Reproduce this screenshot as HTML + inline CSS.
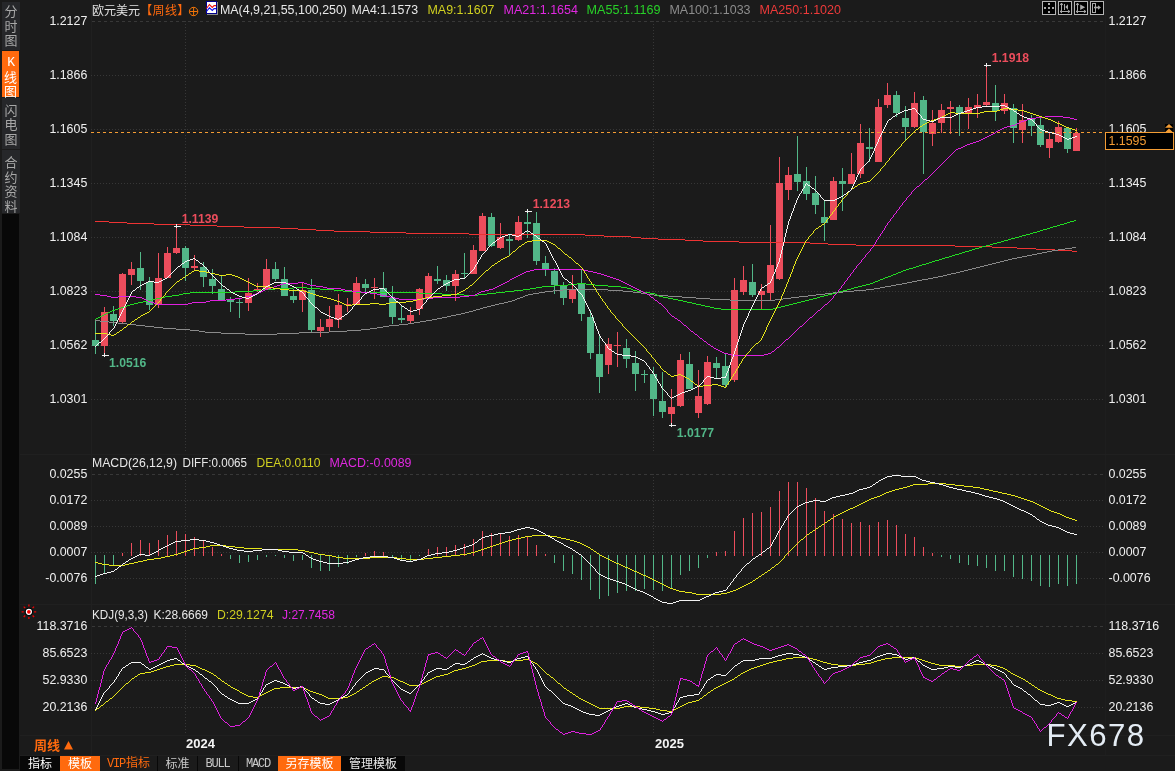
<!DOCTYPE html>
<html lang="zh"><head><meta charset="utf-8"><title>欧元美元 周线</title>
<style>
html,body{margin:0;padding:0;background:#1b1b1b;overflow:hidden;}
body{width:1175px;height:771px;overflow:hidden;position:relative;font-family:"Liberation Sans","Noto Sans CJK SC",sans-serif;color:#e8e8e8;}
#side{position:absolute;left:2px;top:0;width:18px;height:769px;}
#side i{position:absolute;left:0;top:214px;width:17px;height:555px;background:#080808;display:block;}
#side div{position:absolute;left:0;width:18px;box-sizing:content-box;background:#26272a;color:#a8a8a8;font-size:13px;line-height:14.5px;text-align:center;}
#side div.on{background:#ff6a0e;color:#fff;}
#side span{display:block;}
#bar{position:absolute;left:20px;top:756px;height:15px;width:385px;background:#080808;font-size:12px;line-height:16px;}
#bar span{position:absolute;top:0;padding-top:0;height:15px;text-align:center;white-space:nowrap;}
svg{position:absolute;left:0;top:0;}
text{font-family:"Liberation Sans","Noto Sans CJK SC",sans-serif;}
.m{font-family:"Liberation Mono","Noto Sans CJK SC",monospace;letter-spacing:-1.2px;}
#bar .m{letter-spacing:0} #bar .m b{font-weight:normal;letter-spacing:-1.2px;margin-right:1.2px}
</style></head><body>

<div id="side"><i></i>
<div style="top:2px;height:45px;padding-top:3px"><span>分</span><span>时</span><span>图</span></div>
<div class="on" style="top:51px;height:41px;padding-top:5px;width:17px"><span class="m" style="font-size:13px">K</span><span>线</span><span>图</span></div>
<div style="top:98px;height:45.5px;padding-top:5.5px"><span>闪</span><span>电</span><span>图</span></div>
<div style="top:150px;height:57px;padding-top:6px"><span>合</span><span>约</span><span>资</span><span>料</span></div>
</div>

<svg width="1175" height="771" viewBox="0 0 1175 771">
<g stroke="#202020" stroke-width="1" shape-rendering="crispEdges">
<line x1="91.5" y1="0" x2="91.5" y2="755"/><line x1="1105.5" y1="0" x2="1105.5" y2="755" stroke="#1e1e1e"/>
<line x1="20" y1="454.5" x2="1175" y2="454.5"/>
<line x1="20" y1="604.5" x2="1175" y2="604.5"/>
<line x1="20" y1="735.5" x2="1175" y2="735.5"/>
<line x1="20" y1="755.5" x2="1175" y2="755.5"/>
</g>
<g stroke="#373737" stroke-width="1" shape-rendering="crispEdges" fill="none">
<line x1="92" y1="21.5" x2="1103" y2="21.5" stroke="#383838" stroke-dasharray="3 3"/>
<line x1="91" y1="75.5" x2="1103" y2="75.5" stroke-dasharray="1 2"/>
<line x1="91" y1="129.5" x2="1103" y2="129.5" stroke-dasharray="1 2"/>
<line x1="91" y1="183.5" x2="1103" y2="183.5" stroke-dasharray="1 2"/>
<line x1="91" y1="237.5" x2="1103" y2="237.5" stroke-dasharray="1 2"/>
<line x1="91" y1="291.5" x2="1103" y2="291.5" stroke-dasharray="1 2"/>
<line x1="91" y1="345.5" x2="1103" y2="345.5" stroke-dasharray="1 2"/>
<line x1="91" y1="399.5" x2="1103" y2="399.5" stroke-dasharray="1 2"/>
<line x1="92" y1="474.5" x2="1103" y2="474.5" stroke="#383838" stroke-dasharray="3 3"/>
<line x1="91" y1="500.5" x2="1103" y2="500.5" stroke-dasharray="1 2"/>
<line x1="91" y1="526.5" x2="1103" y2="526.5" stroke-dasharray="1 2"/>
<line x1="91" y1="552.5" x2="1103" y2="552.5" stroke-dasharray="1 2"/>
<line x1="91" y1="578.5" x2="1103" y2="578.5" stroke-dasharray="1 2"/>
<line x1="92" y1="626.5" x2="1103" y2="626.5" stroke="#383838" stroke-dasharray="3 3"/>
<line x1="91" y1="653.5" x2="1103" y2="653.5" stroke-dasharray="1 2"/>
<line x1="91" y1="680.5" x2="1103" y2="680.5" stroke-dasharray="1 2"/>
<line x1="91" y1="707.5" x2="1103" y2="707.5" stroke-dasharray="1 2"/>
<line x1="185.5" y1="21" x2="185.5" y2="452" stroke-dasharray="1 2"/>
<line x1="185.5" y1="474" x2="185.5" y2="604" stroke-dasharray="1 2"/>
<line x1="185.5" y1="627" x2="185.5" y2="735" stroke-dasharray="1 2"/>
<line x1="653.5" y1="21" x2="653.5" y2="452" stroke-dasharray="1 2"/>
<line x1="653.5" y1="474" x2="653.5" y2="604" stroke-dasharray="1 2"/>
<line x1="653.5" y1="627" x2="653.5" y2="735" stroke-dasharray="1 2"/>
</g>
<g shape-rendering="crispEdges">
<rect x="95" y="319" width="1" height="35" fill="#52b788"/>
<rect x="92" y="340" width="7" height="6" fill="#52b788"/>
<rect x="104" y="307" width="1" height="48" fill="#ec4d5c"/>
<rect x="101" y="312" width="7" height="34" fill="#ec4d5c"/>
<rect x="113" y="306" width="1" height="20" fill="#52b788"/>
<rect x="110" y="314" width="7" height="7" fill="#52b788"/>
<rect x="122" y="273" width="1" height="50" fill="#ec4d5c"/>
<rect x="119" y="274" width="7" height="48" fill="#ec4d5c"/>
<rect x="131" y="262" width="1" height="23" fill="#ec4d5c"/>
<rect x="128" y="269" width="7" height="6" fill="#ec4d5c"/>
<rect x="140" y="252" width="1" height="38" fill="#52b788"/>
<rect x="137" y="268" width="7" height="13" fill="#52b788"/>
<rect x="149" y="277" width="1" height="33" fill="#52b788"/>
<rect x="146" y="282" width="7" height="23" fill="#52b788"/>
<rect x="158" y="253" width="1" height="55" fill="#ec4d5c"/>
<rect x="155" y="278" width="7" height="27" fill="#ec4d5c"/>
<rect x="167" y="247" width="1" height="31" fill="#ec4d5c"/>
<rect x="164" y="253" width="7" height="25" fill="#ec4d5c"/>
<rect x="176" y="226" width="1" height="28" fill="#ec4d5c"/>
<rect x="173" y="248" width="7" height="5" fill="#ec4d5c"/>
<rect x="185" y="246" width="1" height="35" fill="#52b788"/>
<rect x="182" y="248" width="7" height="20" fill="#52b788"/>
<rect x="194" y="255" width="1" height="16" fill="#ec4d5c"/>
<rect x="191" y="266" width="7" height="2" fill="#ec4d5c"/>
<rect x="203" y="262" width="1" height="25" fill="#52b788"/>
<rect x="200" y="267" width="7" height="10" fill="#52b788"/>
<rect x="212" y="269" width="1" height="25" fill="#52b788"/>
<rect x="209" y="279" width="7" height="7" fill="#52b788"/>
<rect x="221" y="276" width="1" height="25" fill="#52b788"/>
<rect x="218" y="289" width="7" height="11" fill="#52b788"/>
<rect x="230" y="297" width="1" height="15" fill="#52b788"/>
<rect x="227" y="300" width="7" height="2" fill="#52b788"/>
<rect x="239" y="298" width="1" height="20" fill="#52b788"/>
<rect x="236" y="302" width="7" height="1" fill="#52b788"/>
<rect x="248" y="278" width="1" height="33" fill="#ec4d5c"/>
<rect x="245" y="293" width="7" height="10" fill="#ec4d5c"/>
<rect x="257" y="283" width="1" height="9" fill="#ec4d5c"/>
<rect x="254" y="289" width="7" height="2" fill="#ec4d5c"/>
<rect x="266" y="259" width="1" height="31" fill="#ec4d5c"/>
<rect x="263" y="269" width="7" height="21" fill="#ec4d5c"/>
<rect x="275" y="262" width="1" height="19" fill="#52b788"/>
<rect x="272" y="269" width="7" height="10" fill="#52b788"/>
<rect x="284" y="267" width="1" height="29" fill="#52b788"/>
<rect x="281" y="279" width="7" height="17" fill="#52b788"/>
<rect x="293" y="289" width="1" height="14" fill="#52b788"/>
<rect x="290" y="296" width="7" height="4" fill="#52b788"/>
<rect x="302" y="282" width="1" height="30" fill="#ec4d5c"/>
<rect x="299" y="290" width="7" height="10" fill="#ec4d5c"/>
<rect x="311" y="279" width="1" height="53" fill="#52b788"/>
<rect x="308" y="290" width="7" height="40" fill="#52b788"/>
<rect x="320" y="319" width="1" height="18" fill="#ec4d5c"/>
<rect x="317" y="327" width="7" height="4" fill="#ec4d5c"/>
<rect x="329" y="306" width="1" height="26" fill="#ec4d5c"/>
<rect x="326" y="319" width="7" height="8" fill="#ec4d5c"/>
<rect x="338" y="294" width="1" height="34" fill="#ec4d5c"/>
<rect x="335" y="305" width="7" height="15" fill="#ec4d5c"/>
<rect x="347" y="298" width="1" height="14" fill="#ec4d5c"/>
<rect x="344" y="304" width="7" height="1" fill="#ec4d5c"/>
<rect x="356" y="277" width="1" height="27" fill="#ec4d5c"/>
<rect x="353" y="283" width="7" height="21" fill="#ec4d5c"/>
<rect x="365" y="279" width="1" height="13" fill="#52b788"/>
<rect x="362" y="284" width="7" height="4" fill="#52b788"/>
<rect x="374" y="278" width="1" height="21" fill="#ec4d5c"/>
<rect x="371" y="287" width="7" height="1" fill="#ec4d5c"/>
<rect x="383" y="272" width="1" height="25" fill="#52b788"/>
<rect x="380" y="288" width="7" height="9" fill="#52b788"/>
<rect x="392" y="286" width="1" height="38" fill="#52b788"/>
<rect x="389" y="298" width="7" height="19" fill="#52b788"/>
<rect x="401" y="305" width="1" height="18" fill="#52b788"/>
<rect x="398" y="318" width="7" height="2" fill="#52b788"/>
<rect x="410" y="307" width="1" height="17" fill="#ec4d5c"/>
<rect x="407" y="315" width="7" height="6" fill="#ec4d5c"/>
<rect x="419" y="288" width="1" height="27" fill="#ec4d5c"/>
<rect x="416" y="289" width="7" height="20" fill="#ec4d5c"/>
<rect x="428" y="273" width="1" height="25" fill="#ec4d5c"/>
<rect x="425" y="276" width="7" height="22" fill="#ec4d5c"/>
<rect x="437" y="266" width="1" height="18" fill="#52b788"/>
<rect x="434" y="279" width="7" height="2" fill="#52b788"/>
<rect x="446" y="275" width="1" height="16" fill="#52b788"/>
<rect x="443" y="280" width="7" height="6" fill="#52b788"/>
<rect x="455" y="270" width="1" height="31" fill="#ec4d5c"/>
<rect x="452" y="274" width="7" height="12" fill="#ec4d5c"/>
<rect x="464" y="253" width="1" height="25" fill="#52b788"/>
<rect x="461" y="273" width="7" height="1" fill="#52b788"/>
<rect x="473" y="245" width="1" height="29" fill="#ec4d5c"/>
<rect x="470" y="250" width="7" height="24" fill="#ec4d5c"/>
<rect x="482" y="213" width="1" height="38" fill="#ec4d5c"/>
<rect x="479" y="216" width="7" height="35" fill="#ec4d5c"/>
<rect x="491" y="213" width="1" height="34" fill="#52b788"/>
<rect x="488" y="217" width="7" height="29" fill="#52b788"/>
<rect x="500" y="223" width="1" height="26" fill="#ec4d5c"/>
<rect x="497" y="237" width="7" height="11" fill="#ec4d5c"/>
<rect x="509" y="235" width="1" height="20" fill="#52b788"/>
<rect x="506" y="239" width="7" height="2" fill="#52b788"/>
<rect x="518" y="216" width="1" height="25" fill="#ec4d5c"/>
<rect x="515" y="222" width="7" height="18" fill="#ec4d5c"/>
<rect x="527" y="211" width="1" height="27" fill="#52b788"/>
<rect x="524" y="222" width="7" height="2" fill="#52b788"/>
<rect x="536" y="212" width="1" height="53" fill="#52b788"/>
<rect x="533" y="223" width="7" height="38" fill="#52b788"/>
<rect x="545" y="256" width="1" height="20" fill="#52b788"/>
<rect x="542" y="263" width="7" height="7" fill="#52b788"/>
<rect x="554" y="268" width="1" height="26" fill="#52b788"/>
<rect x="551" y="271" width="7" height="14" fill="#52b788"/>
<rect x="563" y="282" width="1" height="23" fill="#52b788"/>
<rect x="560" y="285" width="7" height="13" fill="#52b788"/>
<rect x="572" y="275" width="1" height="28" fill="#ec4d5c"/>
<rect x="569" y="290" width="7" height="9" fill="#ec4d5c"/>
<rect x="581" y="269" width="1" height="52" fill="#52b788"/>
<rect x="578" y="283" width="7" height="31" fill="#52b788"/>
<rect x="590" y="310" width="1" height="49" fill="#52b788"/>
<rect x="587" y="317" width="7" height="36" fill="#52b788"/>
<rect x="599" y="336" width="1" height="57" fill="#52b788"/>
<rect x="596" y="354" width="7" height="23" fill="#52b788"/>
<rect x="608" y="338" width="1" height="36" fill="#ec4d5c"/>
<rect x="605" y="344" width="7" height="21" fill="#ec4d5c"/>
<rect x="617" y="332" width="1" height="35" fill="#ec4d5c"/>
<rect x="614" y="345" width="7" height="1" fill="#ec4d5c"/>
<rect x="626" y="339" width="1" height="29" fill="#52b788"/>
<rect x="623" y="348" width="7" height="11" fill="#52b788"/>
<rect x="635" y="351" width="1" height="40" fill="#52b788"/>
<rect x="632" y="363" width="7" height="11" fill="#52b788"/>
<rect x="644" y="370" width="1" height="13" fill="#52b788"/>
<rect x="641" y="374" width="7" height="1" fill="#52b788"/>
<rect x="653" y="367" width="1" height="49" fill="#52b788"/>
<rect x="650" y="374" width="7" height="25" fill="#52b788"/>
<rect x="662" y="372" width="1" height="46" fill="#52b788"/>
<rect x="659" y="401" width="7" height="11" fill="#52b788"/>
<rect x="671" y="389" width="1" height="36" fill="#ec4d5c"/>
<rect x="668" y="407" width="7" height="7" fill="#ec4d5c"/>
<rect x="680" y="354" width="1" height="53" fill="#ec4d5c"/>
<rect x="677" y="360" width="7" height="46" fill="#ec4d5c"/>
<rect x="689" y="352" width="1" height="37" fill="#52b788"/>
<rect x="686" y="364" width="7" height="25" fill="#52b788"/>
<rect x="698" y="370" width="1" height="48" fill="#ec4d5c"/>
<rect x="695" y="396" width="7" height="17" fill="#ec4d5c"/>
<rect x="707" y="356" width="1" height="49" fill="#ec4d5c"/>
<rect x="704" y="362" width="7" height="42" fill="#ec4d5c"/>
<rect x="716" y="357" width="1" height="21" fill="#52b788"/>
<rect x="713" y="363" width="7" height="5" fill="#52b788"/>
<rect x="725" y="353" width="1" height="35" fill="#52b788"/>
<rect x="722" y="366" width="7" height="19" fill="#52b788"/>
<rect x="734" y="278" width="1" height="104" fill="#ec4d5c"/>
<rect x="731" y="290" width="7" height="90" fill="#ec4d5c"/>
<rect x="743" y="266" width="1" height="29" fill="#ec4d5c"/>
<rect x="740" y="280" width="7" height="12" fill="#ec4d5c"/>
<rect x="752" y="264" width="1" height="33" fill="#52b788"/>
<rect x="749" y="282" width="7" height="13" fill="#52b788"/>
<rect x="761" y="284" width="1" height="25" fill="#ec4d5c"/>
<rect x="758" y="291" width="7" height="4" fill="#ec4d5c"/>
<rect x="770" y="225" width="1" height="75" fill="#ec4d5c"/>
<rect x="767" y="265" width="7" height="28" fill="#ec4d5c"/>
<rect x="779" y="157" width="1" height="123" fill="#ec4d5c"/>
<rect x="776" y="183" width="7" height="96" fill="#ec4d5c"/>
<rect x="788" y="167" width="1" height="33" fill="#ec4d5c"/>
<rect x="785" y="175" width="7" height="15" fill="#ec4d5c"/>
<rect x="797" y="136" width="1" height="55" fill="#52b788"/>
<rect x="794" y="174" width="7" height="8" fill="#52b788"/>
<rect x="806" y="167" width="1" height="33" fill="#52b788"/>
<rect x="803" y="181" width="7" height="13" fill="#52b788"/>
<rect x="815" y="176" width="1" height="38" fill="#52b788"/>
<rect x="812" y="193" width="7" height="12" fill="#52b788"/>
<rect x="824" y="200" width="1" height="41" fill="#52b788"/>
<rect x="821" y="217" width="7" height="6" fill="#52b788"/>
<rect x="833" y="177" width="1" height="43" fill="#ec4d5c"/>
<rect x="830" y="181" width="7" height="39" fill="#ec4d5c"/>
<rect x="842" y="168" width="1" height="43" fill="#52b788"/>
<rect x="839" y="181" width="7" height="3" fill="#52b788"/>
<rect x="851" y="153" width="1" height="31" fill="#ec4d5c"/>
<rect x="848" y="174" width="7" height="10" fill="#ec4d5c"/>
<rect x="860" y="124" width="1" height="54" fill="#ec4d5c"/>
<rect x="857" y="143" width="7" height="31" fill="#ec4d5c"/>
<rect x="869" y="128" width="1" height="34" fill="#52b788"/>
<rect x="866" y="147" width="7" height="2" fill="#52b788"/>
<rect x="878" y="99" width="1" height="63" fill="#ec4d5c"/>
<rect x="875" y="107" width="7" height="55" fill="#ec4d5c"/>
<rect x="887" y="83" width="1" height="25" fill="#ec4d5c"/>
<rect x="884" y="95" width="7" height="10" fill="#ec4d5c"/>
<rect x="896" y="91" width="1" height="26" fill="#52b788"/>
<rect x="893" y="95" width="7" height="18" fill="#52b788"/>
<rect x="905" y="106" width="1" height="34" fill="#52b788"/>
<rect x="902" y="118" width="7" height="9" fill="#52b788"/>
<rect x="914" y="92" width="1" height="36" fill="#ec4d5c"/>
<rect x="911" y="103" width="7" height="24" fill="#ec4d5c"/>
<rect x="923" y="96" width="1" height="78" fill="#52b788"/>
<rect x="920" y="100" width="7" height="32" fill="#52b788"/>
<rect x="932" y="110" width="1" height="36" fill="#ec4d5c"/>
<rect x="929" y="123" width="7" height="11" fill="#ec4d5c"/>
<rect x="941" y="104" width="1" height="29" fill="#ec4d5c"/>
<rect x="938" y="110" width="7" height="13" fill="#ec4d5c"/>
<rect x="950" y="101" width="1" height="33" fill="#ec4d5c"/>
<rect x="947" y="107" width="7" height="2" fill="#ec4d5c"/>
<rect x="959" y="105" width="1" height="31" fill="#52b788"/>
<rect x="956" y="107" width="7" height="6" fill="#52b788"/>
<rect x="968" y="98" width="1" height="31" fill="#ec4d5c"/>
<rect x="965" y="107" width="7" height="6" fill="#ec4d5c"/>
<rect x="977" y="94" width="1" height="24" fill="#ec4d5c"/>
<rect x="974" y="105" width="7" height="3" fill="#ec4d5c"/>
<rect x="986" y="65" width="1" height="41" fill="#ec4d5c"/>
<rect x="983" y="102" width="7" height="3" fill="#ec4d5c"/>
<rect x="995" y="85" width="1" height="36" fill="#52b788"/>
<rect x="992" y="103" width="7" height="8" fill="#52b788"/>
<rect x="1004" y="94" width="1" height="20" fill="#ec4d5c"/>
<rect x="1001" y="103" width="7" height="8" fill="#ec4d5c"/>
<rect x="1013" y="104" width="1" height="39" fill="#52b788"/>
<rect x="1010" y="108" width="7" height="20" fill="#52b788"/>
<rect x="1022" y="104" width="1" height="39" fill="#ec4d5c"/>
<rect x="1019" y="120" width="7" height="10" fill="#ec4d5c"/>
<rect x="1031" y="115" width="1" height="21" fill="#52b788"/>
<rect x="1028" y="118" width="7" height="8" fill="#52b788"/>
<rect x="1040" y="117" width="1" height="30" fill="#52b788"/>
<rect x="1037" y="125" width="7" height="20" fill="#52b788"/>
<rect x="1049" y="132" width="1" height="26" fill="#ec4d5c"/>
<rect x="1046" y="139" width="7" height="9" fill="#ec4d5c"/>
<rect x="1058" y="121" width="1" height="22" fill="#ec4d5c"/>
<rect x="1055" y="127" width="7" height="15" fill="#ec4d5c"/>
<rect x="1067" y="128" width="1" height="25" fill="#52b788"/>
<rect x="1064" y="128" width="7" height="21" fill="#52b788"/>
<rect x="1076" y="128" width="1" height="23" fill="#ec4d5c"/>
<rect x="1073" y="133" width="7" height="18" fill="#ec4d5c"/>
</g>
<line x1="91" y1="132.5" x2="1103" y2="132.5" stroke="#f39c34" stroke-width="1" stroke-dasharray="3 3" shape-rendering="crispEdges"/>
<path d="M95 221.5h14M109 222.5h18M127 223.5h27M154 224.5h36M190 225.5h27M217 226.5h27M244 227.5h36M280 228.5h18M298 229.5h18M316 230.5h18M334 231.5h36M370 232.5h36M406 233.5h63M469 234.5h116M585 235.5h19M604 236.5h27M631 237.5h10M641 238.5h17M658 239.5h27M685 240.5h18M703 241.5h36M739 242.5h71M810 243.5h18M828 244.5h28M856 245.5h99M955 246.5h37M992 247.5h25M1017 248.5h19M1036 249.5h19M1055 250.5h17M1072 251.5h5" fill="none" stroke="#ee3333" stroke-width="1" shape-rendering="crispEdges"/>
<path d="M205 332.5h16M299 332.5h30M136 325.5h9M389 325.5h10M523 296.5h2M668 296.5h14M799 296.5h9M517 298.5h3M696 298.5h14M783 298.5h8M563 289.5h45M866 289.5h8M922 279.5h6M515 299.5h2M710 299.5h20M775 299.5h8M190 330.5h9M347 330.5h14M447 316.5h4M520 297.5h3M682 297.5h14M791 297.5h8M907 282.5h5M245 334.5h32M118 323.5h9M408 323.5h6M512 300.5h3M730 300.5h45M1042 252.5h5M163 328.5h13M370 328.5h7M553 290.5h10M608 290.5h15M854 290.5h12M938 276.5h5M109 322.5h9M414 322.5h6M491 305.5h4M984 265.5h4M533 293.5h6M641 293.5h6M825 293.5h8M528 294.5h5M647 294.5h7M816 294.5h9M933 277.5h5M199 331.5h6M329 331.5h18M1008 259.5h4M100 321.5h9M420 321.5h6M891 285.5h5M221 333.5h24M277 333.5h22M145 326.5h9M383 326.5h6M947 274.5h4M480 308.5h3M539 292.5h6M633 292.5h8M833 292.5h10M154 327.5h9M377 327.5h6M545 291.5h8M623 291.5h10M843 291.5h11M972 268.5h4M176 329.5h14M361 329.5h9M1017 257.5h5M442 317.5h5M461 313.5h4M980 266.5h4M1072 247.5h4M525 295.5h3M654 295.5h14M808 295.5h8M504 302.5h4M885 286.5h6M1004 260.5h4M1065 248.5h7M95 320.5h5M426 320.5h6M1022 256.5h5M469 311.5h4M880 287.5h5M968 269.5h4M127 324.5h9M399 324.5h9M1052 250.5h6M912 281.5h5M1012 258.5h5M992 263.5h4M1032 254.5h5M456 314.5h5M499 303.5h5M902 283.5h5M956 272.5h4M1037 253.5h5M1058 249.5h7M1000 261.5h4M487 306.5h4M943 275.5h4M1027 255.5h5M495 304.5h4M476 309.5h4M917 280.5h5M437 318.5h5M483 307.5h4M976 267.5h4M1047 251.5h5M964 270.5h4M988 264.5h4M432 319.5h5M451 315.5h5M896 284.5h6M951 273.5h5M996 262.5h4M874 288.5h6M465 312.5h4M508 301.5h4M473 310.5h3M928 278.5h5M960 271.5h4" fill="none" stroke="#8a8a8a" stroke-width="1" shape-rendering="crispEdges"/>
<path d="M108 312.5h2M165 296.5h7M659 296.5h4M820 296.5h4M262 289.5h13M320 289.5h14M523 289.5h7M631 289.5h2M847 289.5h4M896 273.5h2M143 301.5h4M683 301.5h4M801 301.5h4M130 304.5h4M696 304.5h5M789 304.5h4M235 291.5h18M343 291.5h13M505 291.5h9M637 291.5h6M839 291.5h4M275 288.5h18M307 288.5h13M530 288.5h6M627 288.5h4M851 288.5h3M179 294.5h4M442 294.5h22M478 294.5h9M655 294.5h2M828 294.5h4M190 292.5h45M356 292.5h63M496 292.5h9M643 292.5h7M836 292.5h3M942 258.5h3M100 316.5h2M568 284.5h9M586 284.5h9M866 284.5h4M253 290.5h9M334 290.5h9M514 290.5h9M633 290.5h4M843 290.5h4M183 293.5h7M419 293.5h23M487 293.5h9M650 293.5h5M832 293.5h4M293 287.5h14M536 287.5h6M621 287.5h6M854 287.5h4M115 309.5h3M721 309.5h52M1060 224.5h4M156 298.5h5M668 298.5h5M813 298.5h4M172 295.5h7M464 295.5h14M657 295.5h2M824 295.5h4M891 275.5h2M1037 231.5h3M1019 236.5h3M993 243.5h4M901 271.5h2M577 283.5h9M870 283.5h3M975 248.5h4M152 299.5h4M673 299.5h5M809 299.5h4M138 302.5h5M687 302.5h5M797 302.5h4M949 256.5h3M1067 222.5h3M1043 229.5h4M929 262.5h3M1026 234.5h4M1001 241.5h3M906 269.5h3M554 285.5h14M595 285.5h13M862 285.5h4M982 246.5h4M965 251.5h4M880 279.5h3M542 286.5h12M608 286.5h13M858 286.5h4M127 305.5h3M701 305.5h4M785 305.5h4M104 314.5h2M121 307.5h3M710 307.5h4M777 307.5h4M1050 227.5h3M959 253.5h3M935 260.5h4M96 318.5h2M919 265.5h3M972 249.5h3M134 303.5h4M692 303.5h4M793 303.5h4M926 263.5h3M903 270.5h3M898 272.5h3M875 281.5h3M955 254.5h4M124 306.5h3M705 306.5h5M781 306.5h4M147 300.5h5M678 300.5h5M805 300.5h4M932 261.5h3M883 278.5h2M997 242.5h4M913 267.5h3M106 313.5h2M979 247.5h3M1057 225.5h3M888 276.5h3M1015 237.5h4M986 245.5h4M945 257.5h4M118 308.5h3M714 308.5h7M773 308.5h4M161 297.5h4M663 297.5h5M817 297.5h3M1064 223.5h3M893 274.5h3M1040 230.5h3M1022 235.5h4M909 268.5h4M878 280.5h2M1070 221.5h4M102 315.5h2M939 259.5h3M98 317.5h2M916 266.5h3M1033 232.5h4M1004 240.5h4M962 252.5h3M922 264.5h4M112 310.5h3M1011 238.5h4M969 250.5h3M1047 228.5h3M1053 226.5h4M885 277.5h3M1008 239.5h3M1030 233.5h3M1074 220.5h2M110 311.5h2M990 244.5h3M873 282.5h2M952 255.5h3M95.5 319v1" fill="none" stroke="#22dd22" stroke-width="1" shape-rendering="crispEdges"/>
<path d="M526 271.5h4M588 271.5h5M144 299.5h2M226 299.5h9M399 299.5h25M100 295.5h7M250 295.5h3M381 295.5h5M469 295.5h6M151 302.5h3M192 302.5h14M265 289.5h3M341 289.5h4M489 289.5h4M637 289.5h2M704 341.5h2M524 272.5h2M593 272.5h4M818 310.5h2M996 131.5h2M142 298.5h2M235 298.5h7M395 298.5h4M424 298.5h9M987 136.5h2M111 297.5h7M136 297.5h6M242 297.5h4M390 297.5h5M433 297.5h27M651 297.5h2M107 296.5h4M118 296.5h18M246 296.5h4M386 296.5h4M460 296.5h9M925 179.5h2M259 292.5h2M361 292.5h9M479 292.5h2M643 292.5h2M1017 123.5h2M268 288.5h3M327 288.5h14M493 288.5h2M635 288.5h2M720 351.5h2M772 351.5h2M154 303.5h3M188 303.5h4M659 303.5h2M261 291.5h2M352 291.5h9M481 291.5h4M641 291.5h2M146 300.5h2M210 300.5h16M655 300.5h2M810 317.5h2M280 284.5h3M307 284.5h3M501 284.5h2M627 284.5h2M534 269.5h50M732 355.5h32M157 304.5h31M825 304.5h2M507 281.5h2M621 281.5h2M675 318.5h2M967 144.5h3M283 283.5h15M304 283.5h3M503 283.5h2M625 283.5h2M256 293.5h3M370 293.5h7M477 293.5h2M645 293.5h2M1036 117.5h9M1063 117.5h7M95 294.5h5M253 294.5h3M377 294.5h4M475 294.5h2M647 294.5h2M512 278.5h2M613 278.5h3M263 290.5h2M345 290.5h7M485 290.5h4M639 290.5h2M1011 125.5h4M522 273.5h2M597 273.5h4M678 320.5h2M973 142.5h3M983 138.5h2M298 282.5h6M505 282.5h2M623 282.5h2M619 280.5h2M1002 128.5h2M993 133.5h2M728 354.5h4M764 354.5h4M1024 120.5h3M1045 116.5h18M700 338.5h2M963 146.5h2M1007 126.5h4M520 274.5h2M601 274.5h3M530 270.5h4M584 270.5h4M277 285.5h3M310 285.5h6M499 285.5h2M629 285.5h2M271 287.5h3M323 287.5h4M495 287.5h2M633 287.5h2M516 276.5h2M607 276.5h3M722 352.5h2M148 301.5h3M206 301.5h4M684 325.5h2M274 286.5h3M316 286.5h7M497 286.5h2M631 286.5h2M998 130.5h2M518 275.5h2M604 275.5h3M989 135.5h2M718 350.5h2M514 277.5h2M610 277.5h3M958 148.5h3M917 186.5h2M711 346.5h2M716 349.5h2M714 348.5h2M1030 118.5h6M1070 118.5h4M695 334.5h2M970 143.5h3M1027 119.5h3M1074 119.5h3M985 137.5h2M724 353.5h4M768 353.5h3M976 141.5h3M981 139.5h2M691 331.5h2M961 147.5h2M786 339.5h2M1004 127.5h3M510 279.5h2M616 279.5h3M1000 129.5h2M1021 121.5h3M800 326.5h2M979 140.5h2M672 316.5h2M777 347.5h2M708 344.5h2M1019 122.5h2M1015 124.5h2M991 134.5h2M956 149.5h2M965 145.5h2M863.5 258v1M864.5 257v1M866.5 254v1M795.5 331v1M901.5 205v1M649.5 295v1M878.5 237v2M902.5 203v2M667.5 310v2M922.5 182v1M710.5 345v1M904.5 201v1M860.5 262v1M887.5 223v2M903.5 202v1M862.5 259v1M861.5 260v2M923.5 181v1M830.5 300v1M831.5 299v1M833.5 296v2M780.5 345v1M663.5 306v1M898.5 209v1M900.5 206v1M920.5 184v1M921.5 183v1M858.5 264v1M995.5 132v1M884.5 228v2M886.5 225v1M829.5 301v1M687.5 327v1M664.5 307v1M894.5 214v1M896.5 211v2M875.5 242v2M899.5 207v2M847.5 278v2M914.5 189v1M828.5 302v1M688.5 328v1M816.5 312v1M872.5 247v1M874.5 244v1M817.5 311v1M699.5 337v1M674.5 317v1M843.5 284v1M845.5 281v1M939.5 166v1M910.5 194v1M702.5 339v1M912.5 191v1M947.5 158v1M911.5 192v2M868.5 252v1M870.5 249v2M815.5 313v1M658.5 302v1M821.5 308v1M839.5 289v1M841.5 286v2M840.5 288v1M880.5 234v2M882.5 231v2M906.5 198v2M908.5 196v1M945.5 160v1M909.5 195v1M689.5 329v1M682.5 323v1M835.5 294v1M838.5 290v2M809.5 318v1M907.5 197v1M834.5 295v1M807.5 320v1M865.5 255v2M794.5 332v1M927.5 178v1M697.5 335v1M935.5 170v1M650.5 296v1M890.5 219v2M792.5 334v1M892.5 217v1M793.5 333v1M849.5 276v1M850.5 274v2M933.5 172v1M915.5 188v1M657.5 301v1M823.5 306v1M790.5 336v1M791.5 335v1M876.5 240v2M888.5 222v1M844.5 282v2M846.5 280v1M680.5 321v1M913.5 190v1M948.5 157v1M698.5 336v1M955.5 150v1M919.5 185v1M856.5 266v2M885.5 226v2M822.5 307v1M827.5 303v1M842.5 285v1M784.5 341v1M946.5 159v1M953.5 152v1M954.5 151v1M820.5 309v1M706.5 342v1M782.5 343v1M783.5 342v1M873.5 245v2M707.5 343v1M669.5 313v1M808.5 319v1M713.5 347v1M813.5 315v1M814.5 314v1M936.5 169v1M881.5 233v1M883.5 230v1M944.5 161v1M683.5 324v1M694.5 333v1M943.5 162v1M812.5 316v1M893.5 215v2M895.5 213v1M853.5 270v2M934.5 171v1M941.5 164v1M942.5 163v1M653.5 298v1M670.5 314v1M889.5 221v1M891.5 218v1M799.5 327v1M932.5 173v1M805.5 322v1M852.5 272v1M803.5 324v1M785.5 340v1M661.5 304v1M848.5 277v1M931.5 174v1M836.5 293v1M681.5 322v1M789.5 337v1M924.5 180v1M703.5 340v1M930.5 175v1M929.5 176v1M832.5 298v1M788.5 338v1M771.5 352v1M668.5 312v1M928.5 177v1M952.5 153v1M693.5 332v1M775.5 349v1M686.5 326v1M776.5 348v1M781.5 344v1M950.5 155v1M916.5 187v1M859.5 263v1M824.5 305v1M806.5 321v1M774.5 350v1M779.5 346v1M897.5 210v1M949.5 156v1M855.5 268v1M857.5 265v1M804.5 323v1M654.5 299v1M851.5 273v1M854.5 269v1M671.5 315v1M665.5 308v1M940.5 165v1M951.5 154v1M837.5 292v1M677.5 319v1M869.5 251v1M797.5 329v1M871.5 248v1M509.5 280v1M798.5 328v1M905.5 200v1M666.5 309v1M938.5 167v1M690.5 330v1M867.5 253v1M796.5 330v1M662.5 305v1M802.5 325v1M877.5 239v1M879.5 236v1M937.5 168v1" fill="none" stroke="#e020e0" stroke-width="1" shape-rendering="crispEdges"/>
<path d="M319 296.5h4M433 296.5h9M194 270.5h5M486 270.5h2M934 119.5h3M1048 119.5h3M256 286.5h13M120 330.5h2M668 374.5h2M678 374.5h3M703 385.5h9M718 385.5h3M327 298.5h4M422 298.5h4M206 272.5h4M923 124.5h2M1060 124.5h2M551 243.5h2M916 129.5h2M1072 129.5h3M183 277.5h2M238 277.5h2M527 241.5h5M547 241.5h2M310 293.5h3M457 293.5h2M565 254.5h2M948 113.5h2M955 113.5h25M1030 113.5h3M495 263.5h2M576 263.5h2M180 279.5h2M242 279.5h2M937 118.5h3M1045 118.5h3M304 291.5h3M461 291.5h2M337 301.5h3M406 301.5h7M532 240.5h15M331 299.5h3M417 299.5h5M240 278.5h2M252 284.5h2M340 302.5h2M390 302.5h16M346 305.5h6M273 288.5h7M466 288.5h2M192 271.5h2M199 271.5h7M997 110.5h3M1018 110.5h6M334 300.5h3M413 300.5h4M671 376.5h3M683 376.5h2M342 303.5h2M370 303.5h9M386 303.5h4M1062 125.5h2M344 304.5h2M352 304.5h18M379 304.5h7M323 297.5h4M426 297.5h7M492 265.5h2M664 371.5h2M186 275.5h2M219 275.5h7M232 275.5h3M920 126.5h2M1064 126.5h2M927 122.5h2M1055 122.5h2M111 335.5h3M280 289.5h9M505 257.5h2M569 257.5h2M316 295.5h3M442 295.5h9M863 182.5h4M687 378.5h2M984 111.5h13M1024 111.5h3M132 321.5h2M1066 127.5h3M215 274.5h4M226 274.5h6M289 290.5h15M463 290.5h2M674 375.5h4M681 375.5h2M513 251.5h2M931 120.5h3M1051 120.5h2M1000 109.5h3M1009 109.5h9M307 292.5h3M459 292.5h2M235 276.5h3M929 121.5h2M1053 121.5h2M143 314.5h2M1075 130.5h2M254 285.5h2M470 285.5h2M855 186.5h2M189 273.5h2M210 273.5h5M248 282.5h2M1003 108.5h6M695 384.5h2M712 384.5h6M860 183.5h3M852 188.5h2M1069 128.5h3M95 333.5h12M269 287.5h4M501 259.5h2M698 386.5h5M721 386.5h3M177 281.5h2M246 281.5h2M950 112.5h5M980 112.5h4M1027 112.5h3M107 334.5h4M114 334.5h2M313 294.5h3M451 294.5h6M867 181.5h3M128 324.5h2M525 242.5h2M549 242.5h2M925 123.5h2M1057 123.5h3M145 313.5h2M946 114.5h2M1033 114.5h3M819 226.5h2M141 315.5h2M942 116.5h2M1039 116.5h3M724 387.5h2M507 256.5h2M522 244.5h2M553 244.5h2M816 228.5h2M685 377.5h2M503 258.5h2M944 115.5h2M1036 115.5h3M244 280.5h2M147 312.5h2M519 246.5h2M138 317.5h2M940 117.5h2M1042 117.5h3M498 261.5h2M250 283.5h2M124 327.5h2M117 332.5h2M135 319.5h2M822 224.5h2M558 248.5h2M691 381.5h2M858 184.5h2M756 343.5h2M781.5 296v3M889.5 158v2M734.5 373v1M479.5 277v1M555.5 245v1M907.5 138v1M639.5 342v1M741.5 361v2M588.5 278v1M658.5 364v1M567.5 255v1M786.5 284v3M730.5 379v2M802.5 247v2M814.5 230v1M584.5 271v2M592.5 284v1M766.5 327v3M904.5 141v1M778.5 303v2M806.5 240v1M646.5 349v2M809.5 236v1M524.5 243v1M158.5 302v1M610.5 310v2M830.5 215v1M899.5 147v1M833.5 211v1M497.5 262v1M769.5 321v2M871.5 179v1M166.5 292v1M587.5 276v2M595.5 288v2M773.5 313v2M818.5 227v1M785.5 287v2M841.5 200v2M761.5 338v2M609.5 309v1M888.5 160v1M599.5 295v1M628.5 331v1M801.5 249v2M474.5 282v1M561.5 250v1M161.5 298v1M836.5 207v1M562.5 251v1M573.5 260v1M880.5 169v2M883.5 166v1M784.5 289v3M737.5 368v1M849.5 191v1M749.5 351v1M788.5 279v3M122.5 329v1M797.5 257v2M777.5 305v2M620.5 322v1M126.5 326v1M598.5 293v2M914.5 131v1M744.5 357v1M768.5 323v2M793.5 266v3M153.5 307v1M173.5 285v1M733.5 374v2M591.5 282v2M661.5 368v1M805.5 241v2M891.5 156v1M594.5 287v1M918.5 128v1M694.5 383v1M627.5 330v1M796.5 259v2M481.5 275v1M649.5 353v1M902.5 143v1M468.5 287v1M824.5 223v1M813.5 231v2M650.5 354v1M634.5 337v1M613.5 314v1M165.5 293v2M772.5 315v2M635.5 338v1M188.5 274v1M808.5 237v2M557.5 247v1M660.5 366v2M484.5 272v1M800.5 251v2M844.5 197v1M515.5 250v1M160.5 299v2M847.5 193v2M875.5 175v1M641.5 344v1M693.5 382v1M832.5 212v2M922.5 125v1M130.5 323v1M488.5 269v1M602.5 299v2M572.5 259v1M642.5 345v1M783.5 292v2M792.5 269v3M612.5 313v1M736.5 369v2M731.5 377v2M909.5 136v1M472.5 284v1M776.5 307v2M168.5 290v1M752.5 347v1M740.5 363v1M767.5 325v2M690.5 380v1M465.5 289v1M727.5 384v1M795.5 261v3M623.5 326v1M894.5 152v2M597.5 292v1M568.5 256v1M601.5 298v1M873.5 177v1M827.5 219v1M870.5 180v1M804.5 243v2M615.5 316v2M762.5 336v2M667.5 373v1M906.5 139v1M689.5 379v1M578.5 264v1M659.5 365v1M622.5 324v2M476.5 280v1M579.5 265v1M163.5 296v1M600.5 296v2M901.5 144v2M835.5 208v2M791.5 272v2M838.5 204v2M593.5 285v2M596.5 290v2M885.5 163v2M851.5 189v1M771.5 317v2M882.5 167v1M666.5 372v1M629.5 332v1M651.5 355v2M799.5 253v2M630.5 333v1M563.5 252v1M846.5 195v1M140.5 316v1M652.5 357v1M175.5 283v1M893.5 154v1M913.5 132v1M490.5 267v1M564.5 253v1M152.5 308v1M782.5 294v2M807.5 239v1M179.5 280v1M494.5 264v1M483.5 273v1M637.5 340v1M743.5 358v1M775.5 309v2M754.5 345v1M826.5 220v2M582.5 268v2M603.5 301v1M803.5 245v2M794.5 264v2M790.5 274v3M758.5 342v1M815.5 229v1M604.5 302v1M574.5 261v1M644.5 347v1M726.5 385v2M739.5 364v2M155.5 305v1M896.5 150v1M636.5 339v1M517.5 248v1M877.5 173v1M765.5 330v2M857.5 185v1M621.5 323v1M521.5 245v1M746.5 354v1M510.5 254v1M735.5 371v2M662.5 369v1M770.5 319v2M829.5 216v2M911.5 134v1M170.5 288v1M908.5 137v1M607.5 306v2M478.5 278v1M614.5 315v1M729.5 381v1M810.5 235v1M655.5 360v2M900.5 146v1M150.5 310v1M134.5 320v1M119.5 331v1M185.5 276v1M643.5 346v1M872.5 178v1M625.5 328v1M798.5 255v2M123.5 328v1M127.5 325v1M845.5 196v1M742.5 359v2M653.5 358v1M632.5 335v1M162.5 297v1M903.5 142v1M837.5 206v1M469.5 286v1M654.5 359v1M624.5 327v1M884.5 165v1M821.5 225v1M473.5 283v1M157.5 303v1M580.5 266v1M753.5 346v1M789.5 277v2M581.5 267v1M879.5 171v1M500.5 260v1M915.5 130v1M745.5 355v2M154.5 306v1M512.5 252v1M174.5 284v1M606.5 305v1M895.5 151v1M764.5 332v2M919.5 127v1M616.5 318v1M485.5 271v1M516.5 249v1M617.5 319v1M172.5 286v1M887.5 161v1M732.5 376v1M840.5 202v1M780.5 299v2M825.5 222v1M760.5 340v1M828.5 218v1M605.5 303v2M898.5 148v1M728.5 382v2M812.5 233v1M848.5 192v1M631.5 334v1M748.5 352v1M575.5 262v1M489.5 268v1M191.5 272v1M843.5 198v1M874.5 176v1M890.5 157v1M910.5 135v1M638.5 341v1M149.5 311v1M657.5 363v1M169.5 289v1M480.5 276v1M663.5 370v1M583.5 270v1M477.5 279v1M164.5 295v1M751.5 348v1M645.5 348v1M608.5 308v1M779.5 301v2M656.5 362v1M831.5 214v1M156.5 304v1M586.5 274v2M763.5 334v2M137.5 318v1M787.5 282v2M878.5 172v1M590.5 281v1M511.5 253v1M905.5 140v1M774.5 311v2M697.5 385v1M475.5 281v1M159.5 301v1M648.5 352v1M886.5 162v1M755.5 344v1M834.5 210v1M619.5 321v1M738.5 366v2M850.5 190v1M750.5 349v2M176.5 282v1M897.5 149v1M491.5 266v1M589.5 279v2M854.5 187v1M626.5 329v1M167.5 291v1M518.5 247v1M560.5 249v1M892.5 155v1M571.5 258v1M912.5 133v1M151.5 309v1M611.5 312v1M633.5 336v1M839.5 203v1M759.5 341v1M618.5 320v1M670.5 375v1M811.5 234v1M881.5 168v1M640.5 343v1M585.5 273v1M556.5 246v1M747.5 353v1M131.5 322v1M876.5 174v1M647.5 351v1M482.5 274v1M842.5 199v1M116.5 333v1M182.5 278v1M509.5 255v1M171.5 287v1" fill="none" stroke="#e6e61a" stroke-width="1" shape-rendering="crispEdges"/>
<path d="M622 355.5h9M148 281.5h6M159 281.5h2M450 281.5h2M680 393.5h2M337 319.5h2M904 110.5h4M967 110.5h3M223 286.5h2M266 286.5h2M292 286.5h2M441 286.5h2M940 117.5h12M1024 117.5h3M410 311.5h3M315 307.5h2M408 310.5h2M413 310.5h4M190 259.5h3M497 239.5h2M902 111.5h2M964 111.5h3M1014 111.5h2M321 312.5h2M505 235.5h3M512 235.5h4M519 235.5h2M534 235.5h2M848 191.5h2M908 109.5h4M970 109.5h3M1011 109.5h2M982 106.5h18M1005 106.5h2M898 113.5h2M958 113.5h3M1017 113.5h2M231 292.5h2M367 292.5h2M1040 129.5h2M227 289.5h2M297 289.5h2M373 289.5h6M938 118.5h2M1027 118.5h3M837 198.5h2M396 301.5h2M685 391.5h3M242 297.5h4M249 297.5h2M263 288.5h2M379 288.5h5M438 288.5h2M233 293.5h2M365 293.5h2M502 236.5h3M516 236.5h3M808 185.5h2M889 119.5h2M923 119.5h3M936 119.5h2M1030 119.5h2M835 199.5h2M954 115.5h2M1020 115.5h2M163 279.5h2M454 279.5h6M565 279.5h2M926 120.5h4M934 120.5h2M140 285.5h2M268 285.5h2M290 285.5h2M765 285.5h2M522 233.5h2M531 233.5h2M710 377.5h4M721 377.5h5M146 282.5h2M154 282.5h5M274 282.5h12M448 282.5h2M569 282.5h2M133 290.5h2M371 290.5h2M259 291.5h2M300 291.5h2M369 291.5h2M493 242.5h2M329 316.5h2M342 316.5h2M691 389.5h2M674 396.5h2M508 234.5h4M1065 138.5h2M1069 138.5h3M1042 130.5h3M405 308.5h2M237 295.5h2M253 295.5h2M1000 105.5h5M137 287.5h2M294 287.5h2M762 287.5h2M676 395.5h2M900 112.5h2M961 112.5h3M525 231.5h2M528 231.5h2M615 353.5h2M844 194.5h2M193 258.5h2M165 278.5h2M460 278.5h5M812 188.5h2M976 107.5h6M1007 107.5h2M617 354.5h5M1048 132.5h4M672 397.5h2M631 356.5h5M334 318.5h3M339 318.5h2M896 114.5h2M956 114.5h2M695 387.5h2M144 283.5h2M272 283.5h2M286 283.5h2M446 283.5h2M768 283.5h2M824 200.5h11M185 261.5h2M612 351.5h2M930 121.5h4M678 394.5h2M178 266.5h2M714 378.5h7M182 263.5h2M200 263.5h2M912 108.5h3M973 108.5h3M1009 108.5h2M235 294.5h2M255 294.5h2M642 360.5h2M707 376.5h3M1052 133.5h4M325 314.5h2M345 314.5h2M99 342.5h2M693 388.5h2M697 386.5h2M841 196.5h2M323 313.5h2M638 358.5h2M187 260.5h3M196 260.5h2M542 241.5h2M246 298.5h3M682 392.5h3M417 309.5h3M1056 134.5h3M142 284.5h2M270 284.5h2M288 284.5h2M444 284.5h2M239 296.5h3M251 296.5h2M688 390.5h3M161 280.5h2M452 280.5h2M1059 135.5h2M1063 137.5h2M1072 137.5h3M331 317.5h3M1061 136.5h2M1075 136.5h2M327 315.5h2M893 116.5h2M952 116.5h2M1022 116.5h2M538 238.5h2M1045 131.5h3M839 197.5h2M500 237.5h2M402 306.5h2M640 359.5h2M636 357.5h2M609 349.5h2M1067 139.5h2M795.5 203v2M815.5 190v1M598.5 331v3M349.5 311v1M602.5 339v2M352.5 307v2M784.5 237v5M479.5 259v1M916.5 110v2M562.5 275v2M816.5 191v1M726.5 373v3M646.5 363v2M437.5 289v1M606.5 345v1M822.5 198v1M127.5 300v2M558.5 267v2M730.5 362v3M877.5 142v2M853.5 184v2M136.5 288v1M171.5 273v1M823.5 199v1M792.5 211v2M783.5 242v4M435.5 291v1M700.5 384v1M747.5 316v2M770.5 281v2M703.5 380v2M490.5 245v1M669.5 396v1M533.5 234v1M355.5 304v1M123.5 308v2M230.5 291v1M386.5 291v1M303.5 293v1M865.5 164v1M787.5 225v4M775.5 269v3M814.5 189v1M605.5 343v2M387.5 292v1M116.5 322v2M892.5 117v1M791.5 213v3M779.5 258v4M803.5 188v1M1037.5 126v1M746.5 318v2M778.5 262v2M758.5 293v2M561.5 273v2M1019.5 114v1M467.5 275v1M650.5 369v1M208.5 270v2M706.5 377v1M661.5 386v2M583.5 297v2M786.5 229v4M751.5 307v2M774.5 272v2M394.5 299v1M654.5 374v2M667.5 393v2M568.5 281v1M799.5 194v2M302.5 292v1M103.5 339v1M668.5 395v1M317.5 308v1M811.5 187v1M215.5 278v1M432.5 294v1M478.5 260v2M96.5 345v1M725.5 376v1M131.5 292v2M591.5 313v2M604.5 342v1M485.5 251v1M876.5 144v2M482.5 254v1M359.5 300v1M597.5 329v2M222.5 285v1M557.5 265v2M608.5 348v1M474.5 267v2M347.5 313v1M649.5 367v2M657.5 379v2M393.5 298v1M404.5 307v1M582.5 295v2M860.5 169v2M226.5 288v1M782.5 246v4M653.5 373v1M554.5 260v1M810.5 186v1M257.5 293v1M777.5 264v3M781.5 250v4M1036.5 124v2M443.5 285v1M126.5 302v2M757.5 295v2M859.5 171v2M871.5 155v2M173.5 271v1M107.5 335v1M883.5 129v2M362.5 296v1M915.5 109v1M590.5 311v2M312.5 304v1M564.5 278v1M852.5 186v2M575.5 287v1M207.5 269v1M430.5 296v1M761.5 288v1M553.5 258v2M596.5 326v3M524.5 232v1M313.5 305v1M122.5 310v2M427.5 299v1M867.5 162v1M660.5 384v2M794.5 205v3M790.5 216v3M550.5 252v2M733.5 354v3M745.5 320v2M351.5 309v1M737.5 342v3M593.5 318v3M469.5 273v1M110.5 331v1M802.5 189v2M180.5 265v1M481.5 255v2M789.5 219v2M741.5 330v3M305.5 296v1M1035.5 123v1M793.5 208v3M400.5 304v1M184.5 262v1M748.5 313v3M607.5 346v2M560.5 271v2M806.5 183v1M702.5 382v1M736.5 345v3M705.5 378v1M817.5 192v1M652.5 371v2M492.5 243v1M552.5 256v2M798.5 196v2M918.5 113v1M477.5 262v2M556.5 263v2M98.5 343v1M785.5 233v4M776.5 267v2M210.5 273v1M656.5 378v1M843.5 195v1M354.5 305v1M168.5 276v1M102.5 340v1M875.5 146v2M887.5 121v2M549.5 250v2M847.5 192v1M130.5 294v2M399.5 303v1M422.5 305v1M891.5 118v1M670.5 397v1M319.5 310v1M592.5 315v3M121.5 312v2M880.5 135v2M895.5 115v1M862.5 167v1M917.5 112v1M773.5 274v2M874.5 148v3M388.5 293v1M886.5 123v2M577.5 289v2M655.5 376v2M728.5 368v3M740.5 333v3M589.5 309v2M658.5 381v2M756.5 297v2M105.5 337v1M559.5 269v2M496.5 240v1M578.5 291v1M117.5 320v2M732.5 357v2M744.5 322v2M651.5 370v1M780.5 254v4M659.5 383v1M434.5 292v1M858.5 173v2M772.5 276v3M870.5 157v2M395.5 300v1M361.5 297v2M882.5 131v2M364.5 294v1M788.5 221v4M125.5 304v2M851.5 188v2M752.5 305v2M475.5 265v2M767.5 284v1M484.5 252v1M304.5 294v2M487.5 248v2M1016.5 112v1M202.5 264v1M805.5 184v2M760.5 289v2M217.5 280v1M1038.5 127v1M209.5 272v1M662.5 388v1M555.5 261v2M644.5 361v1M314.5 306v1M866.5 163v1M820.5 195v2M801.5 191v2M595.5 323v3M421.5 306v2M921.5 116v2M551.5 254v2M530.5 232v1M548.5 248v2M318.5 309v1M120.5 314v2M735.5 348v3M175.5 269v1M109.5 332v2M216.5 279v1M544.5 242v1M198.5 261v1M739.5 336v3M797.5 198v2M731.5 359v3M743.5 324v3M614.5 352v1M755.5 299v2M429.5 297v1M878.5 139v3M869.5 159v2M356.5 303v1M734.5 351v3M307.5 298v1M588.5 307v2M881.5 133v2M857.5 175v2M129.5 296v2M738.5 339v3M807.5 184v1M424.5 303v1M299.5 290v1M97.5 344v1M796.5 200v3M471.5 271v1M112.5 329v1M115.5 324v2M261.5 290v1M344.5 315v1M265.5 287v1M306.5 297v1M348.5 312v1M873.5 151v2M750.5 309v2M885.5 125v2M436.5 290v1M771.5 279v2M491.5 244v1M135.5 289v1M576.5 288v1M440.5 287v1M124.5 306v2M104.5 338v1M587.5 305v2M742.5 327v3M170.5 274v1M139.5 286v1M390.5 295v1M699.5 385v1M920.5 115v1M486.5 250v1M540.5 239v1M804.5 186v2M759.5 291v2M864.5 165v1M729.5 365v3M594.5 321v2M547.5 246v2M861.5 168v1M128.5 298v2M466.5 276v1M401.5 305v1M119.5 316v2M177.5 267v1M818.5 193v1M310.5 302v1M919.5 114v1M211.5 274v1M754.5 301v2M431.5 295v1M856.5 177v3M95.5 346v1M580.5 293v1M212.5 275v1M671.5 398v1M320.5 311v1M218.5 281v1M1033.5 121v1M473.5 269v1M389.5 294v1M219.5 282v1M203.5 265v1M114.5 326v2M536.5 236v1M586.5 303v2M1039.5 128v1M204.5 266v1M181.5 264v1M423.5 304v1M579.5 292v1M601.5 338v1M489.5 246v1M663.5 389v1M872.5 153v2M174.5 270v1M749.5 311v2M363.5 295v1M884.5 127v2M111.5 330v1M821.5 197v1M664.5 390v1M546.5 244v2M358.5 301v1M172.5 272v1M106.5 336v1M118.5 318v2M868.5 161v1M571.5 283v1M426.5 300v2M1032.5 120v1M600.5 336v2M309.5 300v2M229.5 290v1M385.5 290v1M572.5 284v1M753.5 303v2M888.5 120v1M470.5 272v1M645.5 362v1M855.5 180v2M879.5 137v2M922.5 118v1M350.5 310v1M480.5 257v2M611.5 350v1M1013.5 110v1M199.5 262v1M545.5 243v1M407.5 309v1M169.5 275v1M701.5 383v1M527.5 230v1M599.5 334v2M308.5 299v1M764.5 286v1M603.5 341v1M585.5 301v2M353.5 306v1M101.5 341v1M863.5 166v1M567.5 280v1M648.5 366v1M468.5 274v1M225.5 287v1M465.5 277v1M384.5 289v1M727.5 371v2M214.5 277v1M704.5 379v1M854.5 182v2M495.5 241v1M296.5 288v1M476.5 264v1M433.5 293v1M499.5 238v1M391.5 296v1M488.5 247v1M846.5 193v1M360.5 299v1M819.5 194v1M584.5 299v2M563.5 277v1M195.5 259v1M541.5 240v1M392.5 297v1M206.5 268v1M850.5 190v1M483.5 253v1M665.5 391v1M357.5 302v1M213.5 276v1M666.5 392v1M258.5 292v1M341.5 317v1M176.5 268v1M573.5 285v1M113.5 328v1M1034.5 122v1M262.5 289v1M800.5 193v1M220.5 283v1M311.5 303v1M167.5 277v1M537.5 237v1M574.5 286v1M647.5 365v1M221.5 284v1M205.5 267v1M108.5 334v1M521.5 234v1M132.5 291v1M581.5 294v1M425.5 302v1M428.5 298v1M472.5 270v1M398.5 302v1M420.5 308v1" fill="none" stroke="#f2f2f2" stroke-width="1" shape-rendering="crispEdges"/>
<g shape-rendering="crispEdges">
<rect x="95" y="555" width="1" height="29" fill="#52b788"/>
<rect x="104" y="555" width="1" height="18" fill="#52b788"/>
<rect x="113" y="555" width="1" height="11" fill="#52b788"/>
<rect x="122" y="553" width="1" height="3" fill="#ec4d5c"/>
<rect x="131" y="543" width="1" height="13" fill="#ec4d5c"/>
<rect x="140" y="540" width="1" height="16" fill="#ec4d5c"/>
<rect x="149" y="543" width="1" height="13" fill="#ec4d5c"/>
<rect x="158" y="540" width="1" height="16" fill="#ec4d5c"/>
<rect x="167" y="535" width="1" height="21" fill="#ec4d5c"/>
<rect x="176" y="531" width="1" height="25" fill="#ec4d5c"/>
<rect x="185" y="534" width="1" height="22" fill="#ec4d5c"/>
<rect x="194" y="537" width="1" height="19" fill="#ec4d5c"/>
<rect x="203" y="541" width="1" height="15" fill="#ec4d5c"/>
<rect x="212" y="547" width="1" height="9" fill="#ec4d5c"/>
<rect x="221" y="554" width="1" height="2" fill="#ec4d5c"/>
<rect x="230" y="555" width="1" height="4" fill="#52b788"/>
<rect x="239" y="555" width="1" height="8" fill="#52b788"/>
<rect x="248" y="555" width="1" height="7" fill="#52b788"/>
<rect x="257" y="555" width="1" height="5" fill="#52b788"/>
<rect x="266" y="555" width="1" height="2" fill="#52b788"/>
<rect x="275" y="555" width="1" height="1" fill="#52b788"/>
<rect x="284" y="555" width="1" height="3" fill="#52b788"/>
<rect x="293" y="555" width="1" height="6" fill="#52b788"/>
<rect x="302" y="555" width="1" height="5" fill="#52b788"/>
<rect x="311" y="555" width="1" height="13" fill="#52b788"/>
<rect x="320" y="555" width="1" height="16" fill="#52b788"/>
<rect x="329" y="555" width="1" height="16" fill="#52b788"/>
<rect x="338" y="555" width="1" height="12" fill="#52b788"/>
<rect x="347" y="555" width="1" height="9" fill="#52b788"/>
<rect x="356" y="555" width="1" height="2" fill="#52b788"/>
<rect x="365" y="553" width="1" height="3" fill="#ec4d5c"/>
<rect x="374" y="551" width="1" height="5" fill="#ec4d5c"/>
<rect x="383" y="552" width="1" height="4" fill="#ec4d5c"/>
<rect x="392" y="555" width="1" height="2" fill="#52b788"/>
<rect x="401" y="555" width="1" height="5" fill="#52b788"/>
<rect x="410" y="555" width="1" height="6" fill="#52b788"/>
<rect x="419" y="555" width="1" height="1" fill="#52b788"/>
<rect x="428" y="549" width="1" height="7" fill="#ec4d5c"/>
<rect x="437" y="547" width="1" height="9" fill="#ec4d5c"/>
<rect x="446" y="547" width="1" height="9" fill="#ec4d5c"/>
<rect x="455" y="545" width="1" height="11" fill="#ec4d5c"/>
<rect x="464" y="544" width="1" height="12" fill="#ec4d5c"/>
<rect x="473" y="539" width="1" height="17" fill="#ec4d5c"/>
<rect x="482" y="531" width="1" height="25" fill="#ec4d5c"/>
<rect x="491" y="533" width="1" height="23" fill="#ec4d5c"/>
<rect x="500" y="534" width="1" height="22" fill="#ec4d5c"/>
<rect x="509" y="536" width="1" height="20" fill="#ec4d5c"/>
<rect x="518" y="535" width="1" height="21" fill="#ec4d5c"/>
<rect x="527" y="536" width="1" height="20" fill="#ec4d5c"/>
<rect x="536" y="545" width="1" height="11" fill="#ec4d5c"/>
<rect x="545" y="554" width="1" height="2" fill="#ec4d5c"/>
<rect x="554" y="555" width="1" height="8" fill="#52b788"/>
<rect x="563" y="555" width="1" height="16" fill="#52b788"/>
<rect x="572" y="555" width="1" height="19" fill="#52b788"/>
<rect x="581" y="555" width="1" height="25" fill="#52b788"/>
<rect x="590" y="555" width="1" height="35" fill="#52b788"/>
<rect x="599" y="555" width="1" height="44" fill="#52b788"/>
<rect x="608" y="555" width="1" height="41" fill="#52b788"/>
<rect x="617" y="555" width="1" height="38" fill="#52b788"/>
<rect x="626" y="555" width="1" height="36" fill="#52b788"/>
<rect x="635" y="555" width="1" height="36" fill="#52b788"/>
<rect x="644" y="555" width="1" height="34" fill="#52b788"/>
<rect x="653" y="555" width="1" height="35" fill="#52b788"/>
<rect x="662" y="555" width="1" height="36" fill="#52b788"/>
<rect x="671" y="555" width="1" height="33" fill="#52b788"/>
<rect x="680" y="555" width="1" height="20" fill="#52b788"/>
<rect x="689" y="555" width="1" height="16" fill="#52b788"/>
<rect x="698" y="555" width="1" height="13" fill="#52b788"/>
<rect x="707" y="555" width="1" height="3" fill="#52b788"/>
<rect x="716" y="552" width="1" height="4" fill="#ec4d5c"/>
<rect x="725" y="551" width="1" height="5" fill="#ec4d5c"/>
<rect x="734" y="531" width="1" height="25" fill="#ec4d5c"/>
<rect x="743" y="518" width="1" height="38" fill="#ec4d5c"/>
<rect x="752" y="513" width="1" height="43" fill="#ec4d5c"/>
<rect x="761" y="512" width="1" height="44" fill="#ec4d5c"/>
<rect x="770" y="507" width="1" height="49" fill="#ec4d5c"/>
<rect x="779" y="491" width="1" height="65" fill="#ec4d5c"/>
<rect x="788" y="482" width="1" height="74" fill="#ec4d5c"/>
<rect x="797" y="482" width="1" height="74" fill="#ec4d5c"/>
<rect x="806" y="488" width="1" height="68" fill="#ec4d5c"/>
<rect x="815" y="498" width="1" height="58" fill="#ec4d5c"/>
<rect x="824" y="511" width="1" height="45" fill="#ec4d5c"/>
<rect x="833" y="514" width="1" height="42" fill="#ec4d5c"/>
<rect x="842" y="519" width="1" height="37" fill="#ec4d5c"/>
<rect x="851" y="523" width="1" height="33" fill="#ec4d5c"/>
<rect x="860" y="522" width="1" height="34" fill="#ec4d5c"/>
<rect x="869" y="525" width="1" height="31" fill="#ec4d5c"/>
<rect x="878" y="522" width="1" height="34" fill="#ec4d5c"/>
<rect x="887" y="520" width="1" height="36" fill="#ec4d5c"/>
<rect x="896" y="525" width="1" height="31" fill="#ec4d5c"/>
<rect x="905" y="534" width="1" height="22" fill="#ec4d5c"/>
<rect x="914" y="537" width="1" height="19" fill="#ec4d5c"/>
<rect x="923" y="547" width="1" height="9" fill="#ec4d5c"/>
<rect x="932" y="553" width="1" height="3" fill="#ec4d5c"/>
<rect x="941" y="555" width="1" height="2" fill="#52b788"/>
<rect x="950" y="555" width="1" height="4" fill="#52b788"/>
<rect x="959" y="555" width="1" height="8" fill="#52b788"/>
<rect x="968" y="555" width="1" height="10" fill="#52b788"/>
<rect x="977" y="555" width="1" height="11" fill="#52b788"/>
<rect x="986" y="555" width="1" height="13" fill="#52b788"/>
<rect x="995" y="555" width="1" height="16" fill="#52b788"/>
<rect x="1004" y="555" width="1" height="16" fill="#52b788"/>
<rect x="1013" y="555" width="1" height="22" fill="#52b788"/>
<rect x="1022" y="555" width="1" height="24" fill="#52b788"/>
<rect x="1031" y="555" width="1" height="26" fill="#52b788"/>
<rect x="1040" y="555" width="1" height="31" fill="#52b788"/>
<rect x="1049" y="555" width="1" height="32" fill="#52b788"/>
<rect x="1058" y="555" width="1" height="29" fill="#52b788"/>
<rect x="1067" y="555" width="1" height="31" fill="#52b788"/>
<rect x="1076" y="555" width="1" height="29" fill="#52b788"/>
</g>
<path d="M505 541.5h3M574 541.5h3M895 489.5h4M984 489.5h5M907 486.5h3M964 486.5h9M161 557.5h4M336 557.5h7M370 557.5h27M433 557.5h9M604 557.5h2M886 492.5h3M998 492.5h4M865 501.5h2M1030 501.5h3M899 488.5h4M980 488.5h4M181 552.5h3M309 552.5h5M471 552.5h4M679 591.5h6M730 591.5h3M637 572.5h2M765 572.5h2M147 559.5h7M406 559.5h18M608 559.5h2M512 539.5h4M566 539.5h4M801 539.5h2M516 538.5h5M561 538.5h5M874 497.5h3M1018 497.5h3M154 558.5h7M343 558.5h27M397 558.5h9M424 558.5h9M606 558.5h2M648 577.5h2M658 582.5h2M750 582.5h2M187 550.5h3M298 550.5h7M478 550.5h3M98 563.5h4M129 563.5h5M616 563.5h3M109 565.5h16M621 565.5h2M193 548.5h6M244 548.5h18M484 548.5h3M206 546.5h4M226 546.5h9M490 546.5h3M586 546.5h2M190 549.5h3M262 549.5h36M481 549.5h3M591 549.5h2M170 555.5h4M325 555.5h7M451 555.5h9M600 555.5h2M508 540.5h4M570 540.5h4M630 569.5h2M525 536.5h7M550 536.5h7M696 594.5h25M641 574.5h2M762 574.5h2M859 504.5h2M1037 504.5h2M850 508.5h3M1045 508.5h2M816 528.5h2M623 566.5h2M95 562.5h3M134 562.5h4M614 562.5h2M184 551.5h3M305 551.5h4M475 551.5h3M594 551.5h2M913 484.5h15M946 484.5h9M871 498.5h3M1021 498.5h3M855 506.5h2M1041 506.5h2M846 510.5h2M1049 510.5h2M210 545.5h16M493 545.5h3M584 545.5h2M174 554.5h4M318 554.5h7M460 554.5h7M884 493.5h2M1002 493.5h5M928 483.5h18M869 499.5h2M1024 499.5h3M143 560.5h4M610 560.5h2M499 543.5h3M580 543.5h2M861 503.5h2M1035 503.5h2M199 547.5h7M235 547.5h9M487 547.5h3M588 547.5h2M165 556.5h5M332 556.5h4M442 556.5h9M602 556.5h2M844 511.5h2M1051 511.5h3M853 507.5h2M1043 507.5h2M662 584.5h2M746 584.5h2M910 485.5h3M955 485.5h9M685 592.5h7M727 592.5h3M813 530.5h2M532 535.5h18M102 564.5h7M125 564.5h4M619 564.5h2M776 564.5h2M848 509.5h2M1047 509.5h2M496 544.5h3M582 544.5h2M831 518.5h2M1069 518.5h3M903 487.5h4M973 487.5h7M842 512.5h2M1054 512.5h3M882 494.5h2M1007 494.5h4M836 515.5h2M1062 515.5h2M857 505.5h2M1039 505.5h2M178 553.5h3M314 553.5h4M467 553.5h4M597 553.5h2M1066 517.5h3M892 490.5h3M989 490.5h4M840 513.5h2M1057 513.5h3M666 586.5h2M742 586.5h2M670 588.5h3M738 588.5h2M838 514.5h2M1060 514.5h2M632 570.5h2M768 570.5h2M877 496.5h3M1015 496.5h3M673 589.5h3M736 589.5h2M664 585.5h2M744 585.5h2M639 573.5h2M521 537.5h4M557 537.5h4M807 534.5h2M628 568.5h2M138 561.5h5M612 561.5h2M668 587.5h2M740 587.5h2M660 583.5h2M748 583.5h2M880 495.5h2M1011 495.5h4M650 578.5h2M756 578.5h2M654 580.5h2M753 580.5h2M646 576.5h2M759 576.5h2M1072 519.5h3M889 491.5h3M993 491.5h5M676 590.5h3M733 590.5h3M692 593.5h4M721 593.5h6M822 524.5h2M643 575.5h3M634 571.5h3M625 567.5h3M772 567.5h2M834 516.5h2M1064 516.5h2M819 526.5h2M867 500.5h2M1027 500.5h3M502 542.5h3M577 542.5h3M828 520.5h2M1075 520.5h2M863 502.5h2M1033 502.5h2M825 522.5h2M652 579.5h2M810 532.5h2M656 581.5h2M590.5 548v1M815.5 529v1M593.5 550v1M794.5 546v1M596.5 552v1M767.5 571v1M782.5 559v1M783.5 558v1M785.5 555v1M771.5 568v1M806.5 535v1M793.5 547v1M758.5 577v1M792.5 548v1M827.5 521v1M800.5 540v1M799.5 541v1M784.5 556v2M770.5 569v1M805.5 536v1M791.5 549v1M804.5 537v1M818.5 527v1M790.5 550v1M775.5 565v1M780.5 561v1M781.5 560v1M761.5 575v1M830.5 519v1M803.5 538v1M774.5 566v1M809.5 533v1M778.5 563v1M779.5 562v1M797.5 543v1M798.5 542v1M752.5 581v1M755.5 579v1M789.5 551v1M821.5 525v1M812.5 531v1M796.5 544v1M788.5 552v1M833.5 517v1M787.5 553v1M824.5 523v1M795.5 545v1M764.5 573v1M786.5 554v1M599.5 554v1" fill="none" stroke="#e6e61a" stroke-width="1" shape-rendering="crispEdges"/>
<path d="M139 554.5h6M150 554.5h2M431 554.5h4M579 554.5h2M759 554.5h2M879 480.5h2M922 480.5h4M161 548.5h2M229 548.5h4M460 548.5h3M570 548.5h2M767 548.5h2M237 550.5h7M253 550.5h9M278 550.5h4M453 550.5h4M573 550.5h2M171 543.5h2M214 543.5h3M561 543.5h2M119 566.5h2M813 500.5h7M826 500.5h2M1000 500.5h3M887 476.5h5M901 476.5h15M514 530.5h3M537 530.5h2M1063 530.5h2M517 529.5h4M534 529.5h3M1061 529.5h2M832 497.5h4M989 497.5h4M97 575.5h3M601 575.5h2M658 600.5h2M679 600.5h21M485 536.5h4M548 536.5h2M651 596.5h2M706 596.5h3M704 597.5h2M131 558.5h2M311 558.5h2M359 558.5h4M394 558.5h3M421 558.5h2M753 558.5h2M1033 516.5h2M859 489.5h4M957 489.5h5M190 539.5h9M479 539.5h2M123 563.5h2M327 563.5h16M747 563.5h2M133 557.5h2M309 557.5h2M363 557.5h7M388 557.5h6M423 557.5h2M1048 525.5h4M836 496.5h4M985 496.5h4M830 498.5h2M993 498.5h4M525 527.5h5M1056 527.5h3M159 549.5h2M233 549.5h4M262 549.5h16M457 549.5h3M152 553.5h2M303 553.5h2M435 553.5h7M863 488.5h4M953 488.5h4M167 545.5h2M220 545.5h3M469 545.5h3M564 545.5h2M797 506.5h2M1013 506.5h2M489 535.5h5M546 535.5h2M505 532.5h6M541 532.5h2M1067 532.5h3M175 541.5h6M206 541.5h4M557 541.5h2M649 595.5h2M709 595.5h2M892 475.5h9M154 552.5h2M289 552.5h14M442 552.5h7M576 552.5h2M129 559.5h2M313 559.5h3M355 559.5h4M397 559.5h3M417 559.5h4M667 603.5h6M137 555.5h2M145 555.5h5M306 555.5h2M427 555.5h4M107 572.5h4M935 483.5h4M643 592.5h2M715 592.5h4M163 547.5h2M226 547.5h3M463 547.5h3M568 547.5h2M165 546.5h2M223 546.5h3M466 546.5h3M566 546.5h2M855 491.5h2M966 491.5h5M619 582.5h3M316 560.5h3M352 560.5h3M400 560.5h6M413 560.5h4M867 487.5h3M949 487.5h4M156 551.5h2M244 551.5h9M282 551.5h7M449 551.5h4M763 551.5h2M809 501.5h4M820 501.5h6M1003 501.5h2M115 569.5h2M135 556.5h2M370 556.5h18M425 556.5h2M756 556.5h2M181 540.5h9M199 540.5h7M555 540.5h2M876 482.5h2M930 482.5h5M126 561.5h2M319 561.5h4M349 561.5h3M406 561.5h7M828 499.5h2M997 499.5h3M656 599.5h2M700 599.5h2M498 533.5h7M543 533.5h2M1070 533.5h4M173 542.5h2M210 542.5h4M475 542.5h2M559 542.5h2M853 492.5h2M971 492.5h4M1024 511.5h2M494 534.5h4M1074 534.5h3M1026 512.5h2M849 493.5h4M975 493.5h4M103 573.5h4M1017 508.5h2M1037 519.5h2M607 578.5h3M647 594.5h2M711 594.5h2M1028 513.5h2M521 528.5h4M530 528.5h4M1059 528.5h2M840 495.5h5M982 495.5h3M511 531.5h3M539 531.5h2M1065 531.5h2M613 580.5h3M1021 510.5h3M111 571.5h3M805 502.5h4M1005 502.5h2M660 601.5h2M676 601.5h3M169 544.5h2M217 544.5h3M472 544.5h2M1015 507.5h2M323 562.5h4M343 562.5h6M803 503.5h2M1007 503.5h2M885 477.5h2M916 477.5h2M616 581.5h3M845 494.5h4M979 494.5h3M801 504.5h2M1009 504.5h2M633 588.5h2M482 537.5h3M550 537.5h2M552 538.5h2M654 598.5h2M702 598.5h2M873 484.5h2M939 484.5h4M662 602.5h5M673 602.5h3M622 583.5h3M881 479.5h2M920 479.5h2M625 584.5h2M95 576.5h2M603 576.5h2M100 574.5h3M599 574.5h2M857 490.5h2M962 490.5h4M635 589.5h2M627 585.5h2M1046 524.5h2M943 485.5h3M926 481.5h4M637 590.5h3M723 590.5h3M629 586.5h2M870 486.5h2M946 486.5h3M1052 526.5h4M883 478.5h2M918 478.5h2M631 587.5h2M1042 522.5h2M640 591.5h3M719 591.5h4M610 579.5h3M645 593.5h2M713 593.5h2M1030 514.5h2M1040 521.5h2M1019 509.5h2M799 505.5h2M1011 505.5h2M605 577.5h2M1044 523.5h2M744.5 566v1M1032.5 515v1M773.5 540v2M740.5 571v1M775.5 537v2M741.5 569v2M782.5 525v1M1039.5 520v1M772.5 542v2M774.5 539v1M593.5 567v1M790.5 513v1M733.5 579v2M781.5 526v2M305.5 554v1M771.5 544v2M778.5 531v2M875.5 483v1M789.5 514v1M752.5 559v1M125.5 562v1M770.5 546v1M787.5 516v2M745.5 565v1M731.5 582v1M730.5 583v2M788.5 515v1M751.5 560v1M128.5 560v1M777.5 533v2M582.5 556v1M114.5 570v1M727.5 587v2M749.5 562v1M878.5 481v1M750.5 561v1M755.5 557v1M118.5 567v1M474.5 543v1M743.5 567v1M784.5 521v2M786.5 518v2M595.5 569v2M739.5 572v1M776.5 535v2M478.5 540v1M783.5 523v2M735.5 577v1M737.5 574v1M738.5 573v1M586.5 560v1M734.5 578v1M736.5 575v2M596.5 571v1M796.5 507v1M780.5 528v2M575.5 551v1M795.5 508v1M1035.5 517v1M598.5 573v1M779.5 530v1M587.5 561v1M769.5 547v1M583.5 557v1M122.5 564v1M758.5 555v1M742.5 568v1M308.5 556v1M477.5 541v1M762.5 552v1M584.5 558v1M594.5 568v1M158.5 550v1M590.5 564v1M481.5 538v1M585.5 559v1M581.5 555v1M591.5 565v1M597.5 572v1M545.5 534v1M794.5 509v1M592.5 566v1M1036.5 518v1M792.5 511v1M793.5 510v1M588.5 562v1M653.5 597v1M554.5 539v1M117.5 568v1M791.5 512v1M872.5 485v1M121.5 565v1M761.5 553v1M785.5 520v1M766.5 549v1M732.5 581v1M589.5 563v1M563.5 544v1M726.5 589v1M728.5 586v1M765.5 550v1M729.5 585v1M578.5 553v1M572.5 549v1M746.5 564v1" fill="none" stroke="#f2f2f2" stroke-width="1" shape-rendering="crispEdges"/>
<path d="M138 674.5h2M444 674.5h4M547 674.5h2M1013 674.5h2M140 673.5h5M211 673.5h2M448 673.5h2M741 673.5h2M1011 673.5h2M135 676.5h2M382 676.5h6M436 676.5h4M1017 676.5h2M110 698.5h2M328 698.5h15M579 698.5h2M700 698.5h2M1057 698.5h4M235 689.5h2M272 689.5h2M306 689.5h2M360 689.5h2M1038 689.5h2M268 691.5h2M310 691.5h3M357 691.5h2M1042 691.5h2M166 666.5h4M196 666.5h2M469 666.5h3M757 666.5h3M955 666.5h9M997 666.5h3M132 678.5h2M218 678.5h2M378 678.5h2M394 678.5h2M432 678.5h2M1021 678.5h2M481 661.5h6M505 661.5h9M531 661.5h2M773 661.5h4M820 661.5h3M874 661.5h3M925 661.5h3M174 664.5h16M475 664.5h2M763 664.5h3M831 664.5h7M856 664.5h9M935 664.5h4M973 664.5h18M793 657.5h16M892 657.5h24M477 663.5h2M535 663.5h2M766 663.5h3M827 663.5h4M865 663.5h6M931 663.5h4M479 662.5h2M533 662.5h2M769 662.5h4M823 662.5h4M871 662.5h3M928 662.5h3M126 683.5h2M225 683.5h2M369 683.5h2M405 683.5h2M422 683.5h2M558 683.5h2M724 683.5h2M1029 683.5h2M228 685.5h2M366 685.5h2M409 685.5h11M720 685.5h2M1032 685.5h2M667 711.5h5M170 665.5h4M190 665.5h6M472 665.5h3M760 665.5h3M838 665.5h18M939 665.5h16M964 665.5h9M991 665.5h6M253 697.5h5M326 697.5h2M343 697.5h5M1055 697.5h2M407 684.5h2M420 684.5h2M722 684.5h2M786 658.5h7M809 658.5h4M885 658.5h7M916 658.5h3M248 696.5h5M258 696.5h2M324 696.5h2M348 696.5h2M576 696.5h2M1053 696.5h2M374 680.5h2M398 680.5h2M428 680.5h2M730 680.5h2M231 687.5h2M280 687.5h24M363 687.5h2M716 687.5h2M1035 687.5h2M154 670.5h3M205 670.5h2M454 670.5h4M747 670.5h2M97 708.5h2M599 708.5h21M649 708.5h7M676 708.5h2M246 695.5h2M260 695.5h2M322 695.5h2M350 695.5h2M704 695.5h2M1051 695.5h2M222 681.5h2M372 681.5h2M400 681.5h3M426 681.5h2M728 681.5h2M1026 681.5h2M403 682.5h2M424 682.5h2M726 682.5h2M145 672.5h6M209 672.5h2M450 672.5h2M743 672.5h2M656 709.5h4M674 709.5h2M240 692.5h2M266 692.5h2M313 692.5h3M570 692.5h2M708 692.5h2M1044 692.5h2M487 660.5h18M514 660.5h9M529 660.5h2M777 660.5h5M817 660.5h3M877 660.5h4M922 660.5h3M106 701.5h2M585 701.5h2M692 701.5h4M1072 701.5h5M242 693.5h2M264 693.5h2M316 693.5h3M354 693.5h2M1046 693.5h2M160 668.5h3M200 668.5h2M462 668.5h4M751 668.5h3M1003 668.5h2M233 688.5h2M274 688.5h6M304 688.5h2M564 688.5h2M714 688.5h2M587 702.5h2M688 702.5h4M244 694.5h2M262 694.5h2M319 694.5h3M352 694.5h2M573 694.5h2M1048 694.5h3M237 690.5h2M270 690.5h2M308 690.5h2M567 690.5h2M711 690.5h2M1040 690.5h2M151 671.5h3M207 671.5h2M452 671.5h2M745 671.5h2M1008 671.5h2M595 706.5h2M624 706.5h16M680 706.5h2M380 677.5h2M388 677.5h6M434 677.5h2M551 677.5h2M735 677.5h2M1019 677.5h2M157 669.5h3M202 669.5h3M458 669.5h4M749 669.5h2M1005 669.5h2M597 707.5h2M620 707.5h4M640 707.5h9M678 707.5h2M523 659.5h6M782 659.5h4M813 659.5h4M881 659.5h4M919 659.5h3M718 686.5h2M214 675.5h2M440 675.5h4M738 675.5h2M1015 675.5h2M591 704.5h2M684 704.5h2M163 667.5h3M198 667.5h2M466 667.5h3M754 667.5h3M1000 667.5h3M581 699.5h2M1061 699.5h4M589 703.5h2M686 703.5h2M583 700.5h2M696 700.5h3M1065 700.5h7M376 679.5h2M396 679.5h2M430 679.5h2M732 679.5h2M1023 679.5h2M101 705.5h2M593 705.5h2M682 705.5h2M660 710.5h7M672 710.5h2M216.5 676v1M128.5 682v1M134.5 677v1M537.5 664v1M1034.5 686v1M703.5 696v1M550.5 676v1M121.5 688v1M561.5 685v1M538.5 665v1M368.5 684v1M217.5 677v1M119.5 690v1M120.5 689v1M562.5 686v1M740.5 674v1M1010.5 672v1M359.5 690v1M118.5 691v1M569.5 691v1M544.5 671v1M539.5 666v1M96.5 709v1M371.5 682v1M540.5 667v1M362.5 688v1M545.5 672v1M563.5 687v1M95.5 710v1M541.5 668v1M99.5 707v1M560.5 684v1M1025.5 680v1M707.5 693v1M542.5 669v1M137.5 675v1M702.5 697v1M227.5 684v1M543.5 670v1M230.5 686v1M575.5 695v1M116.5 693v1M100.5 706v1M105.5 702v1M365.5 686v1M546.5 673v1M734.5 678v1M1037.5 688v1M557.5 682v1M114.5 695v1M115.5 694v1M103.5 704v1M213.5 674v1M104.5 703v1M553.5 678v1M220.5 679v1M108.5 700v1M221.5 680v1M554.5 679v1M706.5 694v1M131.5 679v1M1007.5 670v1M555.5 680v1M566.5 689v1M710.5 691v1M117.5 692v1M124.5 685v1M125.5 684v1M699.5 699v1M122.5 687v1M123.5 686v1M1028.5 682v1M556.5 681v1M549.5 675v1M356.5 692v1M1031.5 684v1M109.5 699v1M737.5 676v1M112.5 697v1M113.5 696v1M224.5 682v1M239.5 691v1M578.5 697v1M572.5 693v1M129.5 681v1M130.5 680v1M713.5 689v1" fill="none" stroke="#e6e61a" stroke-width="1" shape-rendering="crispEdges"/>
<path d="M589 714.5h6M600 714.5h2M661 714.5h4M568 705.5h3M619 705.5h3M630 705.5h2M1045 705.5h6M1064 705.5h2M1069 705.5h2M228 698.5h2M312 698.5h2M339 698.5h2M234 701.5h2M251 701.5h2M334 701.5h2M238 703.5h11M320 703.5h5M330 703.5h2M563 703.5h2M625 703.5h3M1054 703.5h3M1060 703.5h2M1073 703.5h2M287 685.5h2M1014 685.5h2M270 682.5h2M280 682.5h3M142 664.5h2M159 664.5h2M453 664.5h2M460 664.5h5M816 664.5h2M853 664.5h3M967 664.5h3M985 664.5h3M123 667.5h2M146 667.5h2M153 667.5h2M189 667.5h2M831 667.5h7M927 667.5h2M944 667.5h4M955 667.5h6M992 667.5h2M151 668.5h2M191 668.5h2M374 668.5h5M436 668.5h6M447 668.5h2M822 668.5h2M827 668.5h4M929 668.5h2M937 668.5h7M994 668.5h2M196 671.5h2M368 671.5h2M430 671.5h2M1000 671.5h2M577 709.5h2M610 709.5h2M642 709.5h5M170 659.5h4M471 659.5h2M494 659.5h4M515 659.5h2M755 659.5h4M871 659.5h2M905 659.5h3M474 657.5h2M489 657.5h2M521 657.5h4M772 657.5h3M805 657.5h2M875 657.5h2M901 657.5h2M912 657.5h3M407 692.5h2M209 681.5h2M272 681.5h2M277 681.5h3M167 660.5h3M178 660.5h2M498 660.5h5M513 660.5h2M743 660.5h12M810 660.5h2M867 660.5h4M976 660.5h3M126 665.5h2M157 665.5h2M185 665.5h2M735 665.5h2M847 665.5h6M923 665.5h2M964 665.5h3M988 665.5h2M325 704.5h5M565 704.5h3M622 704.5h3M628 704.5h2M1040 704.5h5M1051 704.5h3M1062 704.5h2M1071 704.5h2M586 713.5h3M602 713.5h2M658 713.5h3M665 713.5h4M174 658.5h3M491 658.5h3M517 658.5h4M759 658.5h13M807 658.5h2M873 658.5h2M903 658.5h2M908 658.5h4M480 654.5h2M483 654.5h2M782 654.5h4M793 654.5h6M883 654.5h3M892 654.5h5M583 712.5h3M604 712.5h2M655 712.5h3M669 712.5h3M155 666.5h2M187 666.5h2M450 666.5h2M819 666.5h2M838 666.5h9M925 666.5h2M948 666.5h7M961 666.5h3M990 666.5h2M268 683.5h2M283 683.5h2M579 710.5h2M608 710.5h2M647 710.5h4M131 662.5h10M163 662.5h2M507 662.5h4M813 662.5h2M859 662.5h4M972 662.5h2M981 662.5h2M165 661.5h2M468 661.5h2M503 661.5h4M511 661.5h2M741 661.5h2M863 661.5h4M918 661.5h2M974 661.5h2M979 661.5h2M291 687.5h2M296 687.5h4M1018 687.5h2M149 669.5h2M193 669.5h2M372 669.5h2M379 669.5h5M434 669.5h2M442 669.5h5M824 669.5h3M931 669.5h6M996 669.5h2M222 694.5h2M694 694.5h5M1028 694.5h2M225 696.5h2M343 696.5h2M683 696.5h4M476 656.5h2M487 656.5h2M525 656.5h3M775 656.5h3M802 656.5h3M877 656.5h3M899 656.5h2M129 663.5h2M161 663.5h2M182 663.5h2M455 663.5h5M465 663.5h2M738 663.5h2M856 663.5h3M970 663.5h2M983 663.5h2M409 693.5h2M405 691.5h2M1024 691.5h2M571 706.5h2M616 706.5h3M632 706.5h2M1066 706.5h3M200 674.5h2M716 674.5h5M236 702.5h2M249 702.5h2M318 702.5h2M332 702.5h2M1057 702.5h3M1075 702.5h2M575 708.5h2M612 708.5h2M638 708.5h4M581 711.5h2M606 711.5h2M651 711.5h4M366 672.5h2M428 672.5h2M1002 672.5h2M403 690.5h2M549 690.5h2M232 700.5h2M253 700.5h2M315 700.5h2M336 700.5h2M1035 700.5h2M478 655.5h2M485 655.5h2M778 655.5h4M799 655.5h3M880 655.5h3M897 655.5h2M711 677.5h2M293 688.5h3M1020 688.5h2M341 697.5h2M680 697.5h3M274 680.5h3M401 689.5h2M370 670.5h2M432 670.5h2M998 670.5h2M708 679.5h2M573 707.5h2M614 707.5h2M634 707.5h4M205 678.5h2M230 699.5h2M255 699.5h2M289 686.5h2M300 686.5h3M1016 686.5h2M786 653.5h7M886 653.5h6M266 684.5h2M285 684.5h2M345 695.5h2M687 695.5h7M714 675.5h2M721 675.5h5M595 715.5h5M733.5 667v1M398.5 686v1M551.5 691v1M393.5 681v1M99.5 701v2M101.5 697v2M561.5 701v1M544.5 684v2M815.5 663v1M556.5 696v1M921.5 663v1M115.5 679v1M110.5 685v1M394.5 682v1M109.5 686v2M700.5 691v1M535.5 667v2M111.5 684v1M703.5 686v2M557.5 697v1M737.5 664v1M122.5 668v1M221.5 693v1M204.5 677v1M358.5 680v1M121.5 669v2M809.5 659v1M215.5 686v1M418.5 685v1M107.5 689v1M261.5 692v1M421.5 681v2M262.5 690v2M259.5 695v1M1039.5 703v1M542.5 680v2M530.5 660v2M354.5 685v1M356.5 682v1M98.5 703v2M119.5 672v2M96.5 707v2M216.5 687v1M364.5 674v1M103.5 693v2M731.5 669v1M417.5 686v1M673.5 708v2M260.5 693v2M672.5 710v2M1013.5 684v1M543.5 682v2M212.5 683v1M558.5 698v1M400.5 688v1M1008.5 678v1M97.5 705v2M198.5 672v1M467.5 662v1M729.5 671v1M184.5 664v1M415.5 688v1M416.5 687v1M482.5 653v1M396.5 684v1M390.5 677v2M559.5 699v1M539.5 674v2M310.5 696v1M199.5 673v1M392.5 680v1M217.5 688v2M386.5 673v1M540.5 676v2M555.5 695v1M706.5 681v2M548.5 689v1M1023.5 690v1M385.5 671v2M678.5 700v2M1034.5 699v1M213.5 684v1M118.5 674v2M533.5 664v2M387.5 674v1M1011.5 681v2M1030.5 695v1M397.5 685v1M425.5 676v1M427.5 673v2M426.5 675v1M538.5 672v2M304.5 688v2M528.5 657v2M338.5 699v1M449.5 667v1M821.5 667v1M537.5 670v2M422.5 680v1M424.5 677v2M922.5 664v1M1006.5 675v2M399.5 687v1M224.5 695v1M545.5 686v1M562.5 702v1M365.5 673v1M704.5 684v2M352.5 687v2M702.5 688v1M541.5 678v2M1038.5 702v1M388.5 675v1M208.5 680v1M675.5 705v2M740.5 662v1M148.5 668v1M546.5 687v1M348.5 693v1M263.5 688v2M701.5 689v2M389.5 676v1M730.5 670v1M1032.5 697v1M1022.5 689v1M531.5 662v1M1033.5 698v1M916.5 659v1M105.5 691v1M728.5 672v1M355.5 683v2M362.5 676v1M917.5 660v1M104.5 692v1M1009.5 679v1M547.5 688v1M674.5 707v1M470.5 660v1M360.5 678v1M536.5 669v1M560.5 700v1M413.5 690v1M1010.5 680v1M414.5 689v1M311.5 697v1M1004.5 673v1M699.5 692v2M117.5 676v1M317.5 701v1M710.5 678v1M411.5 692v1M412.5 691v1M257.5 698v1M207.5 679v1M258.5 696v2M306.5 691v1M812.5 661v1M676.5 703v2M95.5 709v1M473.5 658v1M1031.5 696v1M677.5 702v1M116.5 677v2M679.5 698v2M100.5 699v2M102.5 695v2M713.5 676v1M349.5 691v2M141.5 663v1M529.5 659v1M915.5 658v1M1007.5 677v1M452.5 665v1M181.5 662v1M218.5 690v1M195.5 670v1M307.5 692v1M264.5 687v1M265.5 685v2M309.5 694v2M363.5 675v1M705.5 683v1M202.5 675v1M219.5 691v1M308.5 693v1M114.5 680v2M384.5 670v1M1026.5 692v1M361.5 677v1M125.5 666v1M1037.5 701v1M128.5 664v1M726.5 674v1M727.5 673v1M734.5 666v1M314.5 699v1M220.5 692v1M420.5 683v1M423.5 679v1M203.5 676v1M552.5 692v1M818.5 665v1M1027.5 693v1M305.5 690v1M732.5 668v1M227.5 697v1M419.5 684v1M1005.5 674v1M359.5 679v1M553.5 693v1M108.5 688v1M211.5 682v1M177.5 659v1M120.5 671v1M357.5 681v1M144.5 665v1M106.5 690v1M180.5 661v1M395.5 683v1M351.5 689v1M353.5 686v1M707.5 680v1M391.5 679v1M145.5 666v1M554.5 694v1M347.5 694v1M920.5 662v1M350.5 690v1M532.5 663v1M534.5 666v1M214.5 685v1M303.5 687v1M112.5 683v1M113.5 682v1M1012.5 683v1" fill="none" stroke="#f2f2f2" stroke-width="1" shape-rendering="crispEdges"/>
<path d="M157 659.5h2M497 659.5h2M910 659.5h2M970 659.5h2M167 646.5h5M369 646.5h2M760 646.5h3M781 646.5h3M791 646.5h2M878 646.5h2M891 646.5h2M565 733.5h3M579 733.5h7M592 733.5h2M435 652.5h3M459 652.5h2M523 652.5h3M493 656.5h2M863 656.5h4M974 656.5h2M648 714.5h2M1025 714.5h2M151 661.5h3M855 661.5h2M906 661.5h2M235 725.5h5M299 687.5h2M428 654.5h3M462 654.5h2M518 654.5h2M803 654.5h2M507 665.5h2M633 705.5h2M270 666.5h2M849 666.5h2M295 689.5h2M563 734.5h2M586 734.5h6M687 680.5h3M929 680.5h2M444 657.5h2M860 657.5h3M650 715.5h2M1027 715.5h2M1062 715.5h2M325 717.5h2M654 717.5h2M1065 717.5h2M767 649.5h2M772 649.5h3M323 718.5h2M656 718.5h2M683 679.5h4M927 679.5h2M934 679.5h2M1002 679.5h2M441 655.5h2M867 655.5h3M321 719.5h2M658 719.5h2M664 719.5h2M630 703.5h2M696 685.5h3M639 709.5h2M1016 709.5h2M845 668.5h2M950 668.5h3M409 710.5h2M1018 710.5h2M503 663.5h2M757 645.5h3M784 645.5h3M789 645.5h2M880 645.5h3M301 686.5h2M431 653.5h4M438 653.5h2M520 653.5h3M315 716.5h2M327 716.5h2M652 716.5h2M668 716.5h2M1029 716.5h2M1044 727.5h2M835 672.5h3M660 720.5h2M833 673.5h2M942 673.5h2M838 671.5h3M945 671.5h2M680 678.5h3M925 678.5h2M480 638.5h2M938 676.5h2M644 712.5h2M560 732.5h2M568 732.5h3M575 732.5h4M594 732.5h2M617 701.5h5M627 701.5h2M526 651.5h2M711 651.5h2M799 651.5h2M841 670.5h2M957 670.5h3M172 647.5h5M763 647.5h2M778 647.5h3M793 647.5h2M636 707.5h2M923 677.5h2M999 677.5h2M189 669.5h2M843 669.5h2M948 669.5h2M953 669.5h4M154 660.5h3M908 660.5h2M366 648.5h2M765 648.5h2M775 648.5h3M795 648.5h2M894 648.5h2M738 641.5h2M748 641.5h2M477 640.5h2M746 640.5h2M297 688.5h2M456 650.5h2M769 650.5h3M571 731.5h4M596 731.5h2M996 675.5h2M847 667.5h2M474 642.5h2M750 642.5h2M505 664.5h2M556 729.5h2M149 662.5h2M501 662.5h2M912 658.5h3M598 730.5h2M1014 708.5h2M693 683.5h2M646 713.5h2M1023 713.5h2M1059 713.5h2M230 726.5h5M690 681.5h2M931 681.5h2M125 630.5h2M642 711.5h2M1020 711.5h2M622 700.5h5M372 644.5h2M754 644.5h3M787 644.5h2M883 644.5h3M888 644.5h2M243 721.5h2M293 690.5h2M735 643.5h2M752 643.5h2M886 643.5h2M741 639.5h2M744 639.5h2M123 631.5h2M225 722.5h2M129 628.5h2M127 629.5h2M98.5 690v4M981.5 659v1M122.5 632v2M471.5 646v1M722.5 655v2M513.5 661v1M248.5 717v1M679.5 681v4M542.5 706v3M145.5 650v3M310.5 708v3M483.5 638v2M1043.5 728v1M798.5 650v1M1074.5 705v2M292.5 688v2M303.5 688v3M702.5 671v3M103.5 671v4M218.5 712v2M377.5 647v1M241.5 723v1M390.5 675v4M118.5 641v3M336.5 703v2M968.5 661v1M1036.5 724v2M1047.5 725v1M545.5 716v2M211.5 699v2M348.5 686v2M383.5 654v2M1039.5 729v2M528.5 653v4M97.5 694v4M729.5 653v1M538.5 692v4M141.5 640v2M404.5 704v1M613.5 707v2M352.5 675v3M212.5 701v1M531.5 665v4M675.5 697v4M215.5 706v2M602.5 725v2M425.5 663v4M994.5 673v1M185.5 664v2M1010.5 697v3M832.5 674v1M405.5 705v1M397.5 692v2M137.5 634v1M102.5 675v4M257.5 699v2M666.5 718v1M394.5 686v2M186.5 666v1M858.5 659v1M147.5 656v2M733.5 645v2M159.5 657v2M261.5 686v3M933.5 680v1M816.5 671v2M516.5 657v1M670.5 715v1M725.5 660v1M182.5 658v2M915.5 659v2M609.5 714v2M265.5 672v4M851.5 665v1M674.5 701v4M937.5 677v1M1053.5 718v1M424.5 667v4M113.5 653v2M820.5 677v1M559.5 731v1M349.5 683v3M376.5 645v2M361.5 656v2M101.5 679v4M256.5 701v2M1031.5 717v1M413.5 702v3M272.5 665v1M707.5 655v2M214.5 704v2M245.5 720v1M291.5 687v1M1034.5 721v2M972.5 658v1M260.5 689v3M1012.5 703v3M678.5 685v4M368.5 647v1M1035.5 723v1M544.5 712v4M534.5 677v4M1005.5 682v3M210.5 698v1M922.5 674v2M605.5 720v2M976.5 655v1M965.5 664v1M109.5 660v2M140.5 638v2M420.5 681v4M121.5 634v2M706.5 657v4M317.5 717v1M393.5 684v2M252.5 709v2M306.5 697v2M979.5 656v2M896.5 649v1M899.5 653v2M416.5 693v3M963.5 666v1M386.5 663v3M701.5 674v4M448.5 656v1M485.5 642v2M900.5 655v1M229.5 725v1M541.5 702v4M827.5 680v1M105.5 667v2M332.5 710v1M819.5 676v1M724.5 658v2M419.5 685v3M914.5 657v1M941.5 674v1M705.5 661v3M302.5 687v1M344.5 693v1M356.5 666v2M1008.5 691v3M737.5 642v1M876.5 648v1M264.5 676v3M601.5 727v1M527.5 652v1M1038.5 728v1M673.5 705v4M710.5 652v1M339.5 699v1M217.5 710v2M428.5 655v1M193.5 672v1M548.5 720v1M732.5 647v2M921.5 672v2M616.5 702v2M451.5 653v1M139.5 637v1M873.5 651v1M228.5 724v1M608.5 716v1M408.5 708v2M184.5 662v2M555.5 728v1M96.5 698v4M830.5 676v1M530.5 661v4M181.5 656v2M162.5 653v1M351.5 678v3M1049.5 723v1M165.5 649v1M677.5 689v4M363.5 652v2M146.5 653v3M385.5 659v4M1073.5 707v2M728.5 654v2M612.5 709v2M823.5 681v2M458.5 651v1M960.5 669v1M375.5 644v1M312.5 713v1M415.5 696v3M604.5 722v2M251.5 711v2M191.5 670v1M108.5 662v2M389.5 672v3M120.5 636v3M989.5 668v1M1037.5 726v2M192.5 671v1M547.5 719v1M213.5 702v2M1069.5 714v2M990.5 669v1M224.5 721v1M1011.5 700v3M308.5 702v3M1001.5 678v1M499.5 660v1M853.5 663v1M112.5 655v2M635.5 706v1M500.5 661v1M1075.5 703v2M331.5 711v2M104.5 669v2M259.5 692v4M857.5 660v1M427.5 656v4M533.5 673v4M470.5 647v1M407.5 707v1M473.5 643v1M263.5 679v3M305.5 694v3M672.5 709v4M117.5 644v2M818.5 674v2M283.5 676v2M821.5 678v2M255.5 703v2M347.5 688v2M267.5 669v1M240.5 724v1M335.5 705v1M967.5 662v1M982.5 660v1M822.5 680v1M446.5 658v1M100.5 683v4M411.5 707v3M540.5 699v3M615.5 704v2M177.5 648v2M143.5 645v3M262.5 682v4M1064.5 716v1M388.5 669v3M378.5 648v1M209.5 696v2M199.5 681v2M692.5 682v1M1057.5 713v1M829.5 677v2M539.5 696v3M704.5 664v4M142.5 642v3M161.5 654v2M307.5 699v3M947.5 670v1M423.5 671v3M362.5 654v2M515.5 658v1M99.5 687v3M414.5 699v3M529.5 657v4M611.5 711v1M392.5 682v2M898.5 652v1M510.5 665v1M743.5 638v1M319.5 719v1M1052.5 719v1M600.5 728v2M187.5 667v1M247.5 718v1M250.5 713v2M902.5 657v2M180.5 654v2M282.5 674v2M188.5 668v1M807.5 657v2M311.5 711v2M703.5 668v3M1007.5 688v3M495.5 657v1M453.5 651v1M607.5 717v2M536.5 685v4M426.5 660v3M131.5 627v1M496.5 658v1M1032.5 718v2M731.5 649v2M1040.5 731v1M111.5 657v2M202.5 686v2M532.5 669v4M164.5 650v2M195.5 674v2M469.5 648v2M550.5 722v2M198.5 679v2M450.5 654v1M923.5 676v1M680.5 679v2M357.5 664v2M138.5 635v2M962.5 667v1M699.5 681v4M418.5 688v3M543.5 709v3M920.5 670v2M727.5 656v2M422.5 674v4M1070.5 712v2M391.5 679v3M897.5 650v2M119.5 639v2M716.5 647v1M183.5 660v2M488.5 648v2M410.5 711v1M719.5 651v2M875.5 649v1M917.5 663v2M278.5 667v2M676.5 693v4M824.5 683v1M115.5 648v3M179.5 652v2M281.5 672v2M417.5 691v2M603.5 724v1M1006.5 685v3M354.5 670v3M985.5 664v1M535.5 681v4M421.5 678v3M700.5 678v3M314.5 715v1M641.5 710v1M381.5 651v2M399.5 696v2M254.5 705v2M266.5 670v2M1051.5 720v2M269.5 667v1M318.5 718v1M194.5 673v1M549.5 721v1M919.5 667v3M490.5 652v2M992.5 671v1M365.5 649v1M491.5 654v1M984.5 662v2M901.5 656v1M464.5 655v1M904.5 660v2M304.5 691v3M487.5 646v2M107.5 664v1M905.5 662v1M663.5 720v1M277.5 665v2M916.5 661v2M285.5 679v1M144.5 648v2M384.5 656v3M479.5 639v1M341.5 696v1M667.5 717v1M1013.5 706v2M991.5 670v1M859.5 658v1M1054.5 717v1M472.5 644v2M249.5 715v2M197.5 678v1M387.5 666v3M201.5 684v2M893.5 647v1M273.5 664v1M870.5 654v1M610.5 712v2M398.5 694v2M148.5 658v3M360.5 658v2M134.5 631v1M242.5 722v1M412.5 705v2M1009.5 694v3M969.5 660v1M467.5 651v1M509.5 666v1M730.5 651v2M805.5 655v1M973.5 657v1M1042.5 729v1M614.5 706v1M353.5 673v2M983.5 661v1M178.5 650v2M806.5 656v1M313.5 714v1M284.5 678v1M1046.5 726v1M809.5 660v2M452.5 652v1M714.5 649v1M253.5 707v2M219.5 714v2M517.5 655v2M671.5 713v2M726.5 658v2M632.5 704v1M133.5 629v2M698.5 686v1M196.5 676v2M204.5 689v2M364.5 650v2M512.5 662v1M114.5 651v2M552.5 725v1M717.5 648v2M537.5 689v3M455.5 649v1M903.5 659v1M553.5 726v1M918.5 665v2M486.5 644v2M337.5 701v2M340.5 697v2M812.5 665v2M718.5 650v1M280.5 670v2M110.5 659v1M309.5 705v3M964.5 665v1M379.5 649v1M371.5 645v1M400.5 698v2M987.5 666v1M200.5 683v1M831.5 675v1M132.5 628v1M380.5 650v1M466.5 652v2M163.5 652v1M1072.5 709v2M203.5 688v1M801.5 652v1M401.5 700v1M489.5 650v2M877.5 647v1M551.5 724v1M355.5 668v2M826.5 681v1M320.5 720v1M440.5 654v1M443.5 656v1M1068.5 716v2M808.5 659v1M286.5 680v2M276.5 663v2M1061.5 714v1M998.5 676v1M279.5 669v1M287.5 682v1M1050.5 722v1M511.5 663v2M268.5 668v1M166.5 647v2M206.5 692v2M116.5 646v2M359.5 660v2M562.5 733v1M207.5 694v1M936.5 678v1M447.5 657v1M940.5 675v1M343.5 694v1M811.5 663v2M662.5 721v1M709.5 653v1M720.5 653v1M492.5 655v1M740.5 640v1M1056.5 714v2M944.5 672v1M721.5 654v1M1076.5 702v1M815.5 670v1M713.5 650v1M986.5 665v1M220.5 716v2M482.5 637v1M797.5 649v1M872.5 652v1M275.5 662v1M338.5 700v1M221.5 718v1M558.5 730v1M382.5 653v1M403.5 702v2M135.5 632v1M461.5 653v1M993.5 672v1M334.5 706v2M396.5 690v2M1004.5 680v2M1041.5 730v1M136.5 633v1M346.5 690v1M149.5 661v1M454.5 650v1M966.5 663v1M978.5 655v1M814.5 668v2M258.5 696v3M330.5 713v2M289.5 684v2M514.5 659v2M1022.5 712v1M828.5 679v1M290.5 686v1M160.5 656v1M852.5 664v1M95.5 702v2M350.5 681v2M205.5 691v1M1048.5 724v1M402.5 701v1M246.5 719v1M395.5 688v2M227.5 723v1M484.5 640v2M554.5 727v1M358.5 662v2M638.5 708v1M810.5 662v1M465.5 654v1M1071.5 711v1M374.5 643v1M890.5 645v1M449.5 655v1M333.5 708v2M216.5 708v2M734.5 644v1M345.5 691v2M825.5 682v1M106.5 665v2M1033.5 720v1M476.5 641v1M715.5 648v1M802.5 653v1M977.5 654v1M1067.5 718v1M874.5 650v1M708.5 654v1M695.5 684v1M813.5 667v1M606.5 719v1M723.5 657v1M629.5 702v1M817.5 673v1M274.5 663v1M871.5 653v1M288.5 683v1M468.5 650v1M222.5 719v1M988.5 667v1M546.5 718v1M961.5 668v1M223.5 720v1M208.5 695v1M342.5 695v1M1055.5 716v1M995.5 674v1M1058.5 712v1M406.5 706v1M854.5 662v1M980.5 658v1M329.5 715v1" fill="none" stroke="#e020e0" stroke-width="1" shape-rendering="crispEdges"/>
<text x="87.3" y="24.7" fill="#f0f0f0" font-size="12.4" text-anchor="end" font-weight="normal" >1.2127</text>
<text x="1108.5" y="24.7" fill="#f0f0f0" font-size="12.4" text-anchor="start" font-weight="normal" >1.2127</text>
<text x="87.3" y="78.7" fill="#f0f0f0" font-size="12.4" text-anchor="end" font-weight="normal" >1.1866</text>
<text x="1108.5" y="78.7" fill="#f0f0f0" font-size="12.4" text-anchor="start" font-weight="normal" >1.1866</text>
<text x="87.3" y="132.7" fill="#f0f0f0" font-size="12.4" text-anchor="end" font-weight="normal" >1.1605</text>
<text x="1108.5" y="132.7" fill="#f0f0f0" font-size="12.4" text-anchor="start" font-weight="normal" >1.1605</text>
<text x="87.3" y="186.7" fill="#f0f0f0" font-size="12.4" text-anchor="end" font-weight="normal" >1.1345</text>
<text x="1108.5" y="186.7" fill="#f0f0f0" font-size="12.4" text-anchor="start" font-weight="normal" >1.1345</text>
<text x="87.3" y="240.7" fill="#f0f0f0" font-size="12.4" text-anchor="end" font-weight="normal" >1.1084</text>
<text x="1108.5" y="240.7" fill="#f0f0f0" font-size="12.4" text-anchor="start" font-weight="normal" >1.1084</text>
<text x="87.3" y="294.7" fill="#f0f0f0" font-size="12.4" text-anchor="end" font-weight="normal" >1.0823</text>
<text x="1108.5" y="294.7" fill="#f0f0f0" font-size="12.4" text-anchor="start" font-weight="normal" >1.0823</text>
<text x="87.3" y="348.7" fill="#f0f0f0" font-size="12.4" text-anchor="end" font-weight="normal" >1.0562</text>
<text x="1108.5" y="348.7" fill="#f0f0f0" font-size="12.4" text-anchor="start" font-weight="normal" >1.0562</text>
<text x="87.3" y="402.7" fill="#f0f0f0" font-size="12.4" text-anchor="end" font-weight="normal" >1.0301</text>
<text x="1108.5" y="402.7" fill="#f0f0f0" font-size="12.4" text-anchor="start" font-weight="normal" >1.0301</text>
<text x="87.3" y="477.7" fill="#f0f0f0" font-size="12.4" text-anchor="end" font-weight="normal" >0.0255</text>
<text x="1108.5" y="477.7" fill="#f0f0f0" font-size="12.4" text-anchor="start" font-weight="normal" >0.0255</text>
<text x="87.3" y="503.7" fill="#f0f0f0" font-size="12.4" text-anchor="end" font-weight="normal" >0.0172</text>
<text x="1108.5" y="503.7" fill="#f0f0f0" font-size="12.4" text-anchor="start" font-weight="normal" >0.0172</text>
<text x="87.3" y="529.7" fill="#f0f0f0" font-size="12.4" text-anchor="end" font-weight="normal" >0.0089</text>
<text x="1108.5" y="529.7" fill="#f0f0f0" font-size="12.4" text-anchor="start" font-weight="normal" >0.0089</text>
<text x="87.3" y="555.7" fill="#f0f0f0" font-size="12.4" text-anchor="end" font-weight="normal" >0.0007</text>
<text x="1108.5" y="555.7" fill="#f0f0f0" font-size="12.4" text-anchor="start" font-weight="normal" >0.0007</text>
<text x="87.3" y="581.7" fill="#f0f0f0" font-size="12.4" text-anchor="end" font-weight="normal" >-0.0076</text>
<text x="1108.5" y="581.7" fill="#f0f0f0" font-size="12.4" text-anchor="start" font-weight="normal" >-0.0076</text>
<text x="87.3" y="629.7" fill="#f0f0f0" font-size="12.4" text-anchor="end" font-weight="normal" >118.3716</text>
<text x="1108.5" y="629.7" fill="#f0f0f0" font-size="12.4" text-anchor="start" font-weight="normal" >118.3716</text>
<text x="87.3" y="656.7" fill="#f0f0f0" font-size="12.4" text-anchor="end" font-weight="normal" >85.6523</text>
<text x="1108.5" y="656.7" fill="#f0f0f0" font-size="12.4" text-anchor="start" font-weight="normal" >85.6523</text>
<text x="87.3" y="683.7" fill="#f0f0f0" font-size="12.4" text-anchor="end" font-weight="normal" >52.9330</text>
<text x="1108.5" y="683.7" fill="#f0f0f0" font-size="12.4" text-anchor="start" font-weight="normal" >52.9330</text>
<text x="87.3" y="710.7" fill="#f0f0f0" font-size="12.4" text-anchor="end" font-weight="normal" >20.2136</text>
<text x="1108.5" y="710.7" fill="#f0f0f0" font-size="12.4" text-anchor="start" font-weight="normal" >20.2136</text>
<rect x="1105.5" y="132.5" width="68" height="17" fill="#000" stroke="#f39c34" stroke-width="1" shape-rendering="crispEdges"/>
<text x="1108.5" y="145" fill="#f39c34" font-size="12.4" text-anchor="start" font-weight="normal" >1.1595</text>
<rect x="1165" y="124" width="8" height="8" fill="#000"/><path d="M1165 127.8 L1169 124 L1173 127.8Z M1165.3 132 L1169 128.6 L1172.7 132Z" fill="#f39c34"/>
<text x="92" y="15" fill="#e0e0e0" font-size="12" text-anchor="start" font-weight="normal" >欧元美元</text>
<text x="140.3" y="15" fill="#ff6a0e" font-size="12" text-anchor="start" font-weight="normal" letter-spacing="0.3">【周线】</text>
<g stroke="#f07408" stroke-width="1" fill="none"><circle cx="193.6" cy="11.5" r="4.2"/><path d="M189.4 11.5H197.8M193.6 7.3V15.7"/></g>
<path d="M207 14.5H217.5V2" stroke="#8a8a8a" stroke-width="1" fill="none" shape-rendering="crispEdges"/><rect x="206" y="1.5" width="10.5" height="12" fill="#fff" stroke="#00008c" stroke-width="1" shape-rendering="crispEdges"/><path d="M206.5 8.5L209.4 4.5L212.3 7.5L214 5.6H216" stroke="#f01010" stroke-width="1.1" fill="none"/><path d="M206.5 11.5L209.4 7.9L212.3 10.5L214 8.6H216" stroke="#1010f0" stroke-width="1.1" fill="none"/>
<text x="220" y="14" fill="#e8e8e8" font-size="12.5" text-anchor="start" font-weight="normal" textLength="127" lengthAdjust="spacingAndGlyphs">MA(4,9,21,55,100,250)</text>
<text x="351.5" y="14" fill="#e8e8e8" font-size="12.5" text-anchor="start" font-weight="normal" textLength="66.5" lengthAdjust="spacingAndGlyphs">MA4:1.1573</text>
<text x="427.5" y="14" fill="#d0d020" font-size="12.5" text-anchor="start" font-weight="normal" textLength="67" lengthAdjust="spacingAndGlyphs">MA9:1.1607</text>
<text x="503.5" y="14" fill="#e028e0" font-size="12.5" text-anchor="start" font-weight="normal" textLength="74.5" lengthAdjust="spacingAndGlyphs">MA21:1.1654</text>
<text x="586.5" y="14" fill="#28d028" font-size="12.5" text-anchor="start" font-weight="normal" textLength="74" lengthAdjust="spacingAndGlyphs">MA55:1.1169</text>
<text x="669.5" y="14" fill="#8c8c8c" font-size="12.5" text-anchor="start" font-weight="normal" textLength="81" lengthAdjust="spacingAndGlyphs">MA100:1.1033</text>
<text x="759.5" y="14" fill="#ee3a3a" font-size="12.5" text-anchor="start" font-weight="normal" textLength="81.5" lengthAdjust="spacingAndGlyphs">MA250:1.1020</text>
<rect x="1042.5" y="1.5" width="13" height="13" fill="#000" stroke="#b4b4b4" stroke-width="1" shape-rendering="crispEdges"/>
<rect x="1058.5" y="1.5" width="13" height="13" fill="#000" stroke="#b4b4b4" stroke-width="1" shape-rendering="crispEdges"/>
<rect x="1074.5" y="1.5" width="13" height="13" fill="#000" stroke="#b4b4b4" stroke-width="1" shape-rendering="crispEdges"/>
<rect x="1090.5" y="1.5" width="13" height="13" fill="#000" stroke="#b4b4b4" stroke-width="1" shape-rendering="crispEdges"/>
<g fill="#a8a8a8" shape-rendering="crispEdges"><rect x="1048" y="7" width="2" height="2"/><rect x="1048" y="3" width="2" height="2"/><rect x="1048" y="11" width="2" height="2"/><rect x="1044" y="7" width="2" height="2"/><rect x="1052" y="7" width="2" height="2"/></g>
<path d="M1061.5 3V13M1060 11.5H1070" stroke="#a8a8a8" stroke-width="1" fill="none" shape-rendering="crispEdges"/><path d="M1060 5.2L1061.5 3L1063 5.2M1067.8 10L1070 11.5L1067.8 13M1061.8 10.2L1060 11.5L1061.8 12.8" stroke="#a8a8a8" stroke-width="0.9" fill="none"/>
<path d="M1064.5 4V10" stroke="#a8a8a8" stroke-width="1" shape-rendering="crispEdges"/><path d="M1065.3 7 L1068 4.3 V9.7Z" fill="#a8a8a8"/>
<path d="M1077.5 3V13M1076 11.5H1086" stroke="#a8a8a8" stroke-width="1" fill="none" shape-rendering="crispEdges"/><path d="M1076 5.2L1077.5 3L1079 5.2M1083.8 10L1086 11.5L1083.8 13M1077.8 10.2L1076 11.5L1077.8 12.8" stroke="#a8a8a8" stroke-width="0.9" fill="none"/>
<path d="M1080.2 4.4 L1085.2 7.2 L1080.2 10Z" fill="#a8a8a8"/>
<rect x="1092.5" y="3.5" width="3" height="9" fill="none" stroke="#a8a8a8" shape-rendering="crispEdges"/><path d="M1094 7.5h5" stroke="#a8a8a8" stroke-width="1.6"/><path d="M1098 5.2 L1101 7.5 L1098 9.8Z" fill="#a8a8a8"/>
<text x="92" y="467" fill="#e8e8e8" font-size="12.5" text-anchor="start" font-weight="normal" textLength="85" lengthAdjust="spacingAndGlyphs">MACD(26,12,9)</text>
<text x="182.5" y="467" fill="#e8e8e8" font-size="12.5" text-anchor="start" font-weight="normal" textLength="64.5" lengthAdjust="spacingAndGlyphs">DIFF:0.0065</text>
<text x="256.5" y="467" fill="#d0d020" font-size="12.5" text-anchor="start" font-weight="normal" textLength="64" lengthAdjust="spacingAndGlyphs">DEA:0.0110</text>
<text x="329.5" y="467" fill="#e028e0" font-size="12.5" text-anchor="start" font-weight="normal" textLength="82" lengthAdjust="spacingAndGlyphs">MACD:-0.0089</text>
<text x="92" y="619" fill="#e8e8e8" font-size="12.5" text-anchor="start" font-weight="normal" textLength="56" lengthAdjust="spacingAndGlyphs">KDJ(9,3,3)</text>
<text x="153.5" y="619" fill="#e8e8e8" font-size="12.5" text-anchor="start" font-weight="normal" textLength="54.5" lengthAdjust="spacingAndGlyphs">K:28.6669</text>
<text x="217" y="619" fill="#d0d020" font-size="12.5" text-anchor="start" font-weight="normal" textLength="56.5" lengthAdjust="spacingAndGlyphs">D:29.1274</text>
<text x="282" y="619" fill="#e028e0" font-size="12.5" text-anchor="start" font-weight="normal" textLength="53" lengthAdjust="spacingAndGlyphs">J:27.7458</text>
<path d="M34.1 611.8L36.2 611.8M32.6 615.5L34.1 617.0M28.9 617.0L28.9 619.1M25.2 615.5L23.7 617.0M23.7 611.8L21.6 611.8M25.2 608.1L23.7 606.6M28.9 606.6L28.9 604.5M32.6 608.1L34.1 606.6" stroke="#f00000" stroke-width="1.3" fill="none"/><circle cx="28.9" cy="611.8" r="4.1" fill="#000"/><circle cx="28.9" cy="611.8" r="3.1" fill="#fff"/><circle cx="28.9" cy="611.8" r="1.9" fill="#f00000"/>
<path d="M174 226.5H181M176.5 224V228" stroke="#f0f0f0" stroke-width="1" shape-rendering="crispEdges"/>
<text x="181.7" y="223" fill="#ec4d5c" font-size="12.2" text-anchor="start" font-weight="bold" >1.1139</text>
<path d="M525 211.5H532M527.5 209V213" stroke="#f0f0f0" stroke-width="1" shape-rendering="crispEdges"/>
<text x="532.7" y="208" fill="#ec4d5c" font-size="12.2" text-anchor="start" font-weight="bold" >1.1213</text>
<path d="M984 65.5H991M986.5 63V67" stroke="#f0f0f0" stroke-width="1" shape-rendering="crispEdges"/>
<text x="991.7" y="62" fill="#ec4d5c" font-size="12.2" text-anchor="start" font-weight="bold" >1.1918</text>
<path d="M102 355.5H109M104.5 353V357" stroke="#f0f0f0" stroke-width="1" shape-rendering="crispEdges"/>
<text x="109" y="367" fill="#52b788" font-size="12.2" text-anchor="start" font-weight="bold" >1.0516</text>
<path d="M669 425.5H676M671.5 423V427" stroke="#f0f0f0" stroke-width="1" shape-rendering="crispEdges"/>
<text x="676.8" y="437" fill="#52b788" font-size="12.2" text-anchor="start" font-weight="bold" >1.0177</text>
<text x="186" y="748" fill="#f4f4f4" font-size="13" text-anchor="start" font-weight="bold" >2024</text>
<text x="655" y="748" fill="#f4f4f4" font-size="13" text-anchor="start" font-weight="bold" >2025</text>
<text x="34" y="750" fill="#ff6a0e" font-size="13" text-anchor="start" font-weight="bold" >周线</text>
<path d="M64 749.5 L68.5 741 L73 749.5Z" fill="#ff6a0e"/>
<text x="1046.5" y="745.5" fill="#e4ecf4" font-size="31.2" text-anchor="start" font-weight="normal" letter-spacing="1.4">FX678</text>
</svg>
<div id="bar">
<span class="" style="left:0px;width:40px;background:#080808;color:#fff">指标</span>
<span class="" style="left:40px;width:40px;background:#ff6a0e;color:#fff">模板</span>
<span class="m" style="left:80px;width:57px;background:#1b1b1b;color:#ff6a0e"><b>VIP</b>指标</span>
<span class="" style="left:138px;width:39px;background:#1b1b1b;color:#c8c8c8">标准</span>
<span class="m" style="left:178px;width:40px;background:#1b1b1b;color:#c8c8c8"><b>BULL</b></span>
<span class="m" style="left:219px;width:39px;background:#1b1b1b;color:#c8c8c8"><b>MACD</b></span>
<span class="" style="left:258px;width:63px;background:#ff6a0e;color:#fff">另存模板</span>
<span class="" style="left:321px;width:64px;background:#080808;color:#e8e8e8">管理模板</span>
</div>
</body></html>
